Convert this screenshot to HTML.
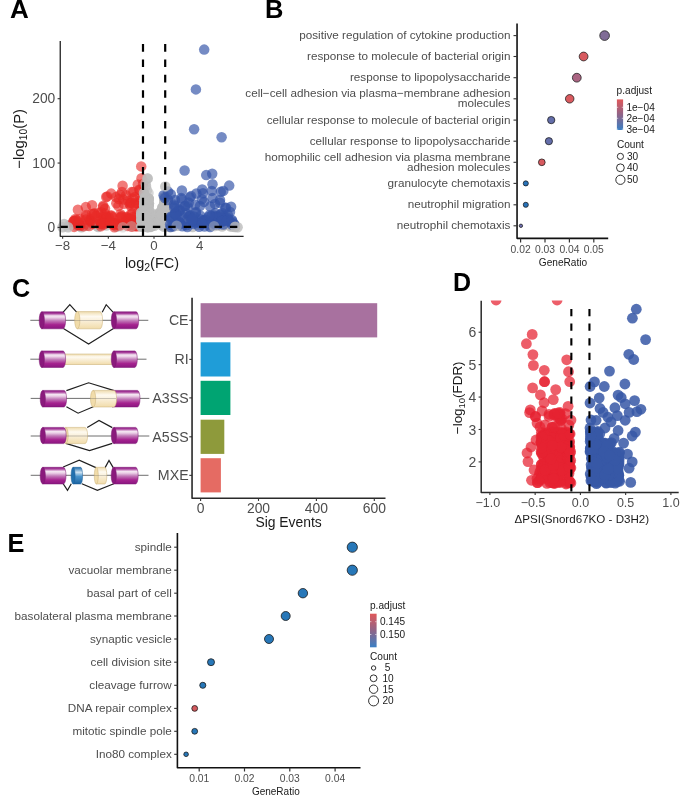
<!DOCTYPE html>
<html><head><meta charset="utf-8"><style>
html,body{margin:0;padding:0;background:#fff;}
svg{display:block;will-change:transform;}
text{font-family:"Liberation Sans",sans-serif;}
</style></head><body>
<svg width="685" height="795" viewBox="0 0 685 795" font-family="Liberation Sans, sans-serif">
<text x="10.0" y="18.0" font-size="26" text-anchor="start" fill="#000" font-weight="bold" >A</text>
<text x="265.1" y="17.9" font-size="25.5" text-anchor="start" fill="#000" font-weight="bold" >B</text>
<text x="11.9" y="297.3" font-size="25.2" text-anchor="start" fill="#000" font-weight="bold" >C</text>
<text x="453.1" y="291.4" font-size="25" text-anchor="start" fill="#000" font-weight="bold" >D</text>
<text x="7.6" y="551.6" font-size="25.3" text-anchor="start" fill="#000" font-weight="bold" >E</text>
<circle cx="142.7" cy="225.4" r="5.25" fill="rgb(188,188,188)" fill-opacity="0.8"/>
<circle cx="224.8" cy="225.1" r="5.25" fill="rgb(188,188,188)" fill-opacity="0.8"/>
<circle cx="152.4" cy="225.5" r="5.25" fill="rgb(188,188,188)" fill-opacity="0.8"/>
<circle cx="96.1" cy="225.2" r="5.25" fill="rgb(188,188,188)" fill-opacity="0.8"/>
<circle cx="173.6" cy="226.4" r="5.25" fill="rgb(188,188,188)" fill-opacity="0.8"/>
<circle cx="80.4" cy="224.4" r="5.25" fill="rgb(188,188,188)" fill-opacity="0.8"/>
<circle cx="79.8" cy="226.4" r="5.25" fill="rgb(188,188,188)" fill-opacity="0.8"/>
<circle cx="184.7" cy="223.4" r="5.25" fill="rgb(188,188,188)" fill-opacity="0.8"/>
<circle cx="234.9" cy="227.1" r="5.25" fill="rgb(188,188,188)" fill-opacity="0.8"/>
<circle cx="177.8" cy="225.7" r="5.25" fill="rgb(188,188,188)" fill-opacity="0.8"/>
<circle cx="91.4" cy="223.3" r="5.25" fill="rgb(188,188,188)" fill-opacity="0.8"/>
<circle cx="155.9" cy="223.4" r="5.25" fill="rgb(188,188,188)" fill-opacity="0.8"/>
<circle cx="97.1" cy="224.2" r="5.25" fill="rgb(188,188,188)" fill-opacity="0.8"/>
<circle cx="69.2" cy="225.1" r="5.25" fill="rgb(188,188,188)" fill-opacity="0.8"/>
<circle cx="140.7" cy="226.6" r="5.25" fill="rgb(188,188,188)" fill-opacity="0.8"/>
<circle cx="154.3" cy="225.8" r="5.25" fill="rgb(188,188,188)" fill-opacity="0.8"/>
<circle cx="151.0" cy="225.8" r="5.25" fill="rgb(188,188,188)" fill-opacity="0.8"/>
<circle cx="143.6" cy="224.3" r="5.25" fill="rgb(188,188,188)" fill-opacity="0.8"/>
<circle cx="237.6" cy="227.2" r="5.25" fill="rgb(188,188,188)" fill-opacity="0.8"/>
<circle cx="210.2" cy="226.0" r="5.25" fill="rgb(188,188,188)" fill-opacity="0.8"/>
<circle cx="118.9" cy="224.1" r="5.25" fill="rgb(188,188,188)" fill-opacity="0.8"/>
<circle cx="114.3" cy="223.5" r="5.25" fill="rgb(188,188,188)" fill-opacity="0.8"/>
<circle cx="197.3" cy="224.8" r="5.25" fill="rgb(188,188,188)" fill-opacity="0.8"/>
<circle cx="211.3" cy="224.7" r="5.25" fill="rgb(188,188,188)" fill-opacity="0.8"/>
<circle cx="230.7" cy="226.6" r="5.25" fill="rgb(188,188,188)" fill-opacity="0.8"/>
<circle cx="64.1" cy="224.0" r="5.25" fill="rgb(188,188,188)" fill-opacity="0.8"/>
<circle cx="222.4" cy="225.1" r="5.25" fill="rgb(188,188,188)" fill-opacity="0.8"/>
<circle cx="234.6" cy="224.8" r="5.25" fill="rgb(188,188,188)" fill-opacity="0.8"/>
<circle cx="76.7" cy="225.7" r="5.25" fill="rgb(188,188,188)" fill-opacity="0.8"/>
<circle cx="199.5" cy="224.3" r="5.25" fill="rgb(188,188,188)" fill-opacity="0.8"/>
<circle cx="79.2" cy="224.5" r="5.25" fill="rgb(188,188,188)" fill-opacity="0.8"/>
<circle cx="231.7" cy="226.2" r="5.25" fill="rgb(188,188,188)" fill-opacity="0.8"/>
<circle cx="84.5" cy="224.2" r="5.25" fill="rgb(188,188,188)" fill-opacity="0.8"/>
<circle cx="81.6" cy="223.4" r="5.25" fill="rgb(188,188,188)" fill-opacity="0.8"/>
<circle cx="202.7" cy="223.9" r="5.25" fill="rgb(188,188,188)" fill-opacity="0.8"/>
<circle cx="161.3" cy="225.0" r="5.25" fill="rgb(188,188,188)" fill-opacity="0.8"/>
<circle cx="97.2" cy="226.1" r="5.25" fill="rgb(188,188,188)" fill-opacity="0.8"/>
<circle cx="86.8" cy="225.8" r="5.25" fill="rgb(188,188,188)" fill-opacity="0.8"/>
<circle cx="84.3" cy="224.9" r="5.25" fill="rgb(188,188,188)" fill-opacity="0.8"/>
<circle cx="101.0" cy="224.3" r="5.25" fill="rgb(188,188,188)" fill-opacity="0.8"/>
<circle cx="232.9" cy="226.4" r="5.25" fill="rgb(188,188,188)" fill-opacity="0.8"/>
<circle cx="116.9" cy="226.7" r="5.25" fill="rgb(188,188,188)" fill-opacity="0.8"/>
<circle cx="100.7" cy="224.8" r="5.25" fill="rgb(188,188,188)" fill-opacity="0.8"/>
<circle cx="212.7" cy="225.8" r="5.25" fill="rgb(188,188,188)" fill-opacity="0.8"/>
<circle cx="81.5" cy="227.2" r="5.25" fill="rgb(188,188,188)" fill-opacity="0.8"/>
<circle cx="101.1" cy="224.2" r="5.25" fill="rgb(188,188,188)" fill-opacity="0.8"/>
<circle cx="198.4" cy="224.5" r="5.25" fill="rgb(188,188,188)" fill-opacity="0.8"/>
<circle cx="115.6" cy="223.5" r="5.25" fill="rgb(188,188,188)" fill-opacity="0.8"/>
<circle cx="79.7" cy="225.5" r="5.25" fill="rgb(188,188,188)" fill-opacity="0.8"/>
<circle cx="106.3" cy="225.6" r="5.25" fill="rgb(188,188,188)" fill-opacity="0.8"/>
<circle cx="128.7" cy="225.0" r="5.25" fill="rgb(188,188,188)" fill-opacity="0.8"/>
<circle cx="230.9" cy="225.1" r="5.25" fill="rgb(188,188,188)" fill-opacity="0.8"/>
<circle cx="164.0" cy="226.7" r="5.25" fill="rgb(188,188,188)" fill-opacity="0.8"/>
<circle cx="95.8" cy="223.8" r="5.25" fill="rgb(188,188,188)" fill-opacity="0.8"/>
<circle cx="222.1" cy="226.5" r="5.25" fill="rgb(188,188,188)" fill-opacity="0.8"/>
<circle cx="107.4" cy="224.0" r="5.25" fill="rgb(188,188,188)" fill-opacity="0.8"/>
<circle cx="192.7" cy="227.0" r="5.25" fill="rgb(188,188,188)" fill-opacity="0.8"/>
<circle cx="98.2" cy="227.0" r="5.25" fill="rgb(188,188,188)" fill-opacity="0.8"/>
<circle cx="217.5" cy="225.6" r="5.25" fill="rgb(188,188,188)" fill-opacity="0.8"/>
<circle cx="137.3" cy="223.6" r="5.25" fill="rgb(188,188,188)" fill-opacity="0.8"/>
<circle cx="74.1" cy="226.9" r="5.25" fill="rgb(232,42,38)" fill-opacity="0.62"/>
<circle cx="79.9" cy="224.8" r="5.25" fill="rgb(232,42,38)" fill-opacity="0.62"/>
<circle cx="80.5" cy="225.8" r="5.25" fill="rgb(232,42,38)" fill-opacity="0.62"/>
<circle cx="90.3" cy="221.4" r="5.25" fill="rgb(232,42,38)" fill-opacity="0.62"/>
<circle cx="78.1" cy="224.9" r="5.25" fill="rgb(232,42,38)" fill-opacity="0.62"/>
<circle cx="75.0" cy="220.9" r="5.25" fill="rgb(232,42,38)" fill-opacity="0.62"/>
<circle cx="89.2" cy="226.0" r="5.25" fill="rgb(232,42,38)" fill-opacity="0.62"/>
<circle cx="90.8" cy="221.3" r="5.25" fill="rgb(232,42,38)" fill-opacity="0.62"/>
<circle cx="99.6" cy="220.7" r="5.25" fill="rgb(232,42,38)" fill-opacity="0.62"/>
<circle cx="73.5" cy="221.2" r="5.25" fill="rgb(232,42,38)" fill-opacity="0.62"/>
<circle cx="85.9" cy="219.5" r="5.25" fill="rgb(232,42,38)" fill-opacity="0.62"/>
<circle cx="78.1" cy="222.0" r="5.25" fill="rgb(232,42,38)" fill-opacity="0.62"/>
<circle cx="89.6" cy="220.1" r="5.25" fill="rgb(232,42,38)" fill-opacity="0.62"/>
<circle cx="83.5" cy="226.3" r="5.25" fill="rgb(232,42,38)" fill-opacity="0.62"/>
<circle cx="101.4" cy="224.4" r="5.25" fill="rgb(232,42,38)" fill-opacity="0.62"/>
<circle cx="93.0" cy="223.8" r="5.25" fill="rgb(232,42,38)" fill-opacity="0.62"/>
<circle cx="106.3" cy="216.4" r="5.25" fill="rgb(232,42,38)" fill-opacity="0.62"/>
<circle cx="100.8" cy="226.3" r="5.25" fill="rgb(232,42,38)" fill-opacity="0.62"/>
<circle cx="131.5" cy="226.6" r="5.25" fill="rgb(232,42,38)" fill-opacity="0.62"/>
<circle cx="101.0" cy="223.4" r="5.25" fill="rgb(232,42,38)" fill-opacity="0.62"/>
<circle cx="121.7" cy="223.5" r="5.25" fill="rgb(232,42,38)" fill-opacity="0.62"/>
<circle cx="114.4" cy="227.2" r="5.25" fill="rgb(232,42,38)" fill-opacity="0.62"/>
<circle cx="103.4" cy="222.3" r="5.25" fill="rgb(232,42,38)" fill-opacity="0.62"/>
<circle cx="133.2" cy="225.5" r="5.25" fill="rgb(232,42,38)" fill-opacity="0.62"/>
<circle cx="133.2" cy="222.2" r="5.25" fill="rgb(232,42,38)" fill-opacity="0.62"/>
<circle cx="135.7" cy="225.7" r="5.25" fill="rgb(232,42,38)" fill-opacity="0.62"/>
<circle cx="115.8" cy="223.2" r="5.25" fill="rgb(232,42,38)" fill-opacity="0.62"/>
<circle cx="140.5" cy="225.2" r="5.25" fill="rgb(232,42,38)" fill-opacity="0.62"/>
<circle cx="118.8" cy="224.5" r="5.25" fill="rgb(232,42,38)" fill-opacity="0.62"/>
<circle cx="138.9" cy="219.8" r="5.25" fill="rgb(232,42,38)" fill-opacity="0.62"/>
<circle cx="128.1" cy="217.7" r="5.25" fill="rgb(232,42,38)" fill-opacity="0.62"/>
<circle cx="126.2" cy="221.4" r="5.25" fill="rgb(232,42,38)" fill-opacity="0.62"/>
<circle cx="103.6" cy="223.3" r="5.25" fill="rgb(232,42,38)" fill-opacity="0.62"/>
<circle cx="144.7" cy="225.8" r="5.25" fill="rgb(232,42,38)" fill-opacity="0.62"/>
<circle cx="132.8" cy="217.0" r="5.25" fill="rgb(232,42,38)" fill-opacity="0.62"/>
<circle cx="133.1" cy="220.1" r="5.25" fill="rgb(232,42,38)" fill-opacity="0.62"/>
<circle cx="119.8" cy="225.1" r="5.25" fill="rgb(232,42,38)" fill-opacity="0.62"/>
<circle cx="103.8" cy="224.5" r="5.25" fill="rgb(232,42,38)" fill-opacity="0.62"/>
<circle cx="101.3" cy="223.1" r="5.25" fill="rgb(232,42,38)" fill-opacity="0.62"/>
<circle cx="121.6" cy="216.7" r="5.25" fill="rgb(232,42,38)" fill-opacity="0.62"/>
<circle cx="131.4" cy="219.0" r="5.25" fill="rgb(232,42,38)" fill-opacity="0.62"/>
<circle cx="127.7" cy="226.0" r="5.25" fill="rgb(232,42,38)" fill-opacity="0.62"/>
<circle cx="111.5" cy="215.4" r="5.25" fill="rgb(232,42,38)" fill-opacity="0.62"/>
<circle cx="113.5" cy="223.3" r="5.25" fill="rgb(232,42,38)" fill-opacity="0.62"/>
<circle cx="109.1" cy="217.6" r="5.25" fill="rgb(232,42,38)" fill-opacity="0.62"/>
<circle cx="140.8" cy="221.9" r="5.25" fill="rgb(232,42,38)" fill-opacity="0.62"/>
<circle cx="119.9" cy="225.8" r="5.25" fill="rgb(232,42,38)" fill-opacity="0.62"/>
<circle cx="114.7" cy="223.1" r="5.25" fill="rgb(232,42,38)" fill-opacity="0.62"/>
<circle cx="108.9" cy="220.6" r="5.25" fill="rgb(232,42,38)" fill-opacity="0.62"/>
<circle cx="136.3" cy="225.7" r="5.25" fill="rgb(232,42,38)" fill-opacity="0.62"/>
<circle cx="139.6" cy="217.0" r="5.25" fill="rgb(232,42,38)" fill-opacity="0.62"/>
<circle cx="126.2" cy="217.0" r="5.25" fill="rgb(232,42,38)" fill-opacity="0.62"/>
<circle cx="106.1" cy="221.6" r="5.25" fill="rgb(232,42,38)" fill-opacity="0.62"/>
<circle cx="137.7" cy="224.5" r="5.25" fill="rgb(232,42,38)" fill-opacity="0.62"/>
<circle cx="132.0" cy="226.4" r="5.25" fill="rgb(232,42,38)" fill-opacity="0.62"/>
<circle cx="112.5" cy="217.2" r="5.25" fill="rgb(232,42,38)" fill-opacity="0.62"/>
<circle cx="120.3" cy="217.6" r="5.25" fill="rgb(232,42,38)" fill-opacity="0.62"/>
<circle cx="109.6" cy="220.4" r="5.25" fill="rgb(232,42,38)" fill-opacity="0.62"/>
<circle cx="128.2" cy="219.4" r="5.25" fill="rgb(232,42,38)" fill-opacity="0.62"/>
<circle cx="114.2" cy="225.2" r="5.25" fill="rgb(232,42,38)" fill-opacity="0.62"/>
<circle cx="144.2" cy="220.6" r="5.25" fill="rgb(232,42,38)" fill-opacity="0.62"/>
<circle cx="103.4" cy="216.8" r="5.25" fill="rgb(232,42,38)" fill-opacity="0.62"/>
<circle cx="139.3" cy="211.0" r="5.25" fill="rgb(232,42,38)" fill-opacity="0.62"/>
<circle cx="131.9" cy="220.1" r="5.25" fill="rgb(232,42,38)" fill-opacity="0.62"/>
<circle cx="113.9" cy="224.6" r="5.25" fill="rgb(232,42,38)" fill-opacity="0.62"/>
<circle cx="100.9" cy="218.3" r="5.25" fill="rgb(232,42,38)" fill-opacity="0.62"/>
<circle cx="120.5" cy="214.2" r="5.25" fill="rgb(232,42,38)" fill-opacity="0.62"/>
<circle cx="137.3" cy="213.5" r="5.25" fill="rgb(232,42,38)" fill-opacity="0.62"/>
<circle cx="106.3" cy="216.6" r="5.25" fill="rgb(232,42,38)" fill-opacity="0.62"/>
<circle cx="128.3" cy="218.6" r="5.25" fill="rgb(232,42,38)" fill-opacity="0.62"/>
<circle cx="128.3" cy="221.8" r="5.25" fill="rgb(232,42,38)" fill-opacity="0.62"/>
<circle cx="136.3" cy="226.5" r="5.25" fill="rgb(232,42,38)" fill-opacity="0.62"/>
<circle cx="130.8" cy="214.2" r="5.25" fill="rgb(232,42,38)" fill-opacity="0.62"/>
<circle cx="121.4" cy="216.0" r="5.25" fill="rgb(232,42,38)" fill-opacity="0.62"/>
<circle cx="100.5" cy="221.8" r="5.25" fill="rgb(232,42,38)" fill-opacity="0.62"/>
<circle cx="132.1" cy="213.6" r="5.25" fill="rgb(232,42,38)" fill-opacity="0.62"/>
<circle cx="85.8" cy="207.1" r="5.25" fill="rgb(232,42,38)" fill-opacity="0.62"/>
<circle cx="106.2" cy="197.0" r="5.25" fill="rgb(232,42,38)" fill-opacity="0.62"/>
<circle cx="98.5" cy="212.8" r="5.25" fill="rgb(232,42,38)" fill-opacity="0.62"/>
<circle cx="101.3" cy="212.2" r="5.25" fill="rgb(232,42,38)" fill-opacity="0.62"/>
<circle cx="141.2" cy="166.4" r="5.25" fill="rgb(232,42,38)" fill-opacity="0.62"/>
<circle cx="141.5" cy="178.3" r="5.25" fill="rgb(232,42,38)" fill-opacity="0.62"/>
<circle cx="137.8" cy="184.5" r="5.25" fill="rgb(232,42,38)" fill-opacity="0.62"/>
<circle cx="122.6" cy="185.7" r="5.25" fill="rgb(232,42,38)" fill-opacity="0.62"/>
<circle cx="111.2" cy="193.6" r="5.25" fill="rgb(232,42,38)" fill-opacity="0.62"/>
<circle cx="107.3" cy="196.4" r="5.25" fill="rgb(232,42,38)" fill-opacity="0.62"/>
<circle cx="122.0" cy="191.9" r="5.25" fill="rgb(232,42,38)" fill-opacity="0.62"/>
<circle cx="126.0" cy="195.3" r="5.25" fill="rgb(232,42,38)" fill-opacity="0.62"/>
<circle cx="133.3" cy="191.9" r="5.25" fill="rgb(232,42,38)" fill-opacity="0.62"/>
<circle cx="116.3" cy="203.2" r="5.25" fill="rgb(232,42,38)" fill-opacity="0.62"/>
<circle cx="129.9" cy="204.4" r="5.25" fill="rgb(232,42,38)" fill-opacity="0.62"/>
<circle cx="105.0" cy="213.4" r="5.25" fill="rgb(232,42,38)" fill-opacity="0.62"/>
<circle cx="110.7" cy="215.7" r="5.25" fill="rgb(232,42,38)" fill-opacity="0.62"/>
<circle cx="85.5" cy="216.7" r="5.25" fill="rgb(232,42,38)" fill-opacity="0.62"/>
<circle cx="90.5" cy="219.0" r="5.25" fill="rgb(232,42,38)" fill-opacity="0.62"/>
<circle cx="75.3" cy="219.0" r="5.25" fill="rgb(232,42,38)" fill-opacity="0.62"/>
<circle cx="73.4" cy="222.4" r="5.25" fill="rgb(232,42,38)" fill-opacity="0.62"/>
<circle cx="78.1" cy="224.7" r="5.25" fill="rgb(232,42,38)" fill-opacity="0.62"/>
<circle cx="119.0" cy="199.0" r="5.25" fill="rgb(232,42,38)" fill-opacity="0.62"/>
<circle cx="128.0" cy="201.0" r="5.25" fill="rgb(232,42,38)" fill-opacity="0.62"/>
<circle cx="135.0" cy="197.0" r="5.25" fill="rgb(232,42,38)" fill-opacity="0.62"/>
<circle cx="140.0" cy="190.0" r="5.25" fill="rgb(232,42,38)" fill-opacity="0.62"/>
<circle cx="143.0" cy="184.0" r="5.25" fill="rgb(232,42,38)" fill-opacity="0.62"/>
<circle cx="74.0" cy="221.0" r="5.25" fill="rgb(232,42,38)" fill-opacity="0.62"/>
<circle cx="76.0" cy="220.0" r="5.25" fill="rgb(232,42,38)" fill-opacity="0.62"/>
<circle cx="80.0" cy="219.0" r="5.25" fill="rgb(232,42,38)" fill-opacity="0.62"/>
<circle cx="92.0" cy="214.0" r="5.25" fill="rgb(232,42,38)" fill-opacity="0.62"/>
<circle cx="96.0" cy="216.0" r="5.25" fill="rgb(232,42,38)" fill-opacity="0.62"/>
<circle cx="136.0" cy="203.0" r="5.25" fill="rgb(232,42,38)" fill-opacity="0.62"/>
<circle cx="141.0" cy="200.0" r="5.25" fill="rgb(232,42,38)" fill-opacity="0.62"/>
<circle cx="144.0" cy="196.0" r="5.25" fill="rgb(232,42,38)" fill-opacity="0.62"/>
<circle cx="120.2" cy="194.9" r="5.25" fill="rgb(232,42,38)" fill-opacity="0.62"/>
<circle cx="132.9" cy="198.4" r="5.25" fill="rgb(232,42,38)" fill-opacity="0.62"/>
<circle cx="130.4" cy="203.1" r="5.25" fill="rgb(232,42,38)" fill-opacity="0.62"/>
<circle cx="123.8" cy="203.8" r="5.25" fill="rgb(232,42,38)" fill-opacity="0.62"/>
<circle cx="139.2" cy="189.7" r="5.25" fill="rgb(232,42,38)" fill-opacity="0.62"/>
<circle cx="140.0" cy="202.4" r="5.25" fill="rgb(232,42,38)" fill-opacity="0.62"/>
<circle cx="115.9" cy="197.1" r="5.25" fill="rgb(232,42,38)" fill-opacity="0.62"/>
<circle cx="130.8" cy="206.2" r="5.25" fill="rgb(232,42,38)" fill-opacity="0.62"/>
<circle cx="123.3" cy="199.4" r="5.25" fill="rgb(232,42,38)" fill-opacity="0.62"/>
<circle cx="138.4" cy="203.9" r="5.25" fill="rgb(232,42,38)" fill-opacity="0.62"/>
<circle cx="140.3" cy="197.3" r="5.25" fill="rgb(232,42,38)" fill-opacity="0.62"/>
<circle cx="131.5" cy="192.1" r="5.25" fill="rgb(232,42,38)" fill-opacity="0.62"/>
<circle cx="133.7" cy="204.4" r="5.25" fill="rgb(232,42,38)" fill-opacity="0.62"/>
<circle cx="131.2" cy="202.4" r="5.25" fill="rgb(232,42,38)" fill-opacity="0.62"/>
<circle cx="118.4" cy="206.0" r="5.25" fill="rgb(232,42,38)" fill-opacity="0.62"/>
<circle cx="141.4" cy="207.5" r="5.25" fill="rgb(232,42,38)" fill-opacity="0.62"/>
<circle cx="93.8" cy="213.7" r="5.25" fill="rgb(232,42,38)" fill-opacity="0.62"/>
<circle cx="86.2" cy="215.0" r="5.25" fill="rgb(232,42,38)" fill-opacity="0.62"/>
<circle cx="105.0" cy="208.8" r="5.25" fill="rgb(232,42,38)" fill-opacity="0.62"/>
<circle cx="77.9" cy="209.8" r="5.25" fill="rgb(232,42,38)" fill-opacity="0.62"/>
<circle cx="94.3" cy="213.5" r="5.25" fill="rgb(232,42,38)" fill-opacity="0.62"/>
<circle cx="92.1" cy="205.3" r="5.25" fill="rgb(232,42,38)" fill-opacity="0.62"/>
<circle cx="103.3" cy="205.7" r="5.25" fill="rgb(232,42,38)" fill-opacity="0.62"/>
<circle cx="103.0" cy="206.9" r="5.25" fill="rgb(232,42,38)" fill-opacity="0.62"/>
<circle cx="147.9" cy="207.1" r="5.25" fill="rgb(188,188,188)" fill-opacity="0.9"/>
<circle cx="144.7" cy="201.2" r="5.25" fill="rgb(188,188,188)" fill-opacity="0.9"/>
<circle cx="148.6" cy="212.6" r="5.25" fill="rgb(188,188,188)" fill-opacity="0.9"/>
<circle cx="148.2" cy="222.4" r="5.25" fill="rgb(188,188,188)" fill-opacity="0.9"/>
<circle cx="146.2" cy="225.6" r="5.25" fill="rgb(188,188,188)" fill-opacity="0.9"/>
<circle cx="141.9" cy="225.7" r="5.25" fill="rgb(188,188,188)" fill-opacity="0.9"/>
<circle cx="146.6" cy="203.7" r="5.25" fill="rgb(188,188,188)" fill-opacity="0.9"/>
<circle cx="147.6" cy="205.8" r="5.25" fill="rgb(188,188,188)" fill-opacity="0.9"/>
<circle cx="146.5" cy="216.3" r="5.25" fill="rgb(188,188,188)" fill-opacity="0.9"/>
<circle cx="146.9" cy="222.5" r="5.25" fill="rgb(188,188,188)" fill-opacity="0.9"/>
<circle cx="145.9" cy="206.4" r="5.25" fill="rgb(188,188,188)" fill-opacity="0.9"/>
<circle cx="150.5" cy="222.5" r="5.25" fill="rgb(188,188,188)" fill-opacity="0.9"/>
<circle cx="148.3" cy="203.3" r="5.25" fill="rgb(188,188,188)" fill-opacity="0.9"/>
<circle cx="146.5" cy="226.2" r="5.25" fill="rgb(188,188,188)" fill-opacity="0.9"/>
<circle cx="143.1" cy="214.3" r="5.25" fill="rgb(188,188,188)" fill-opacity="0.9"/>
<circle cx="146.3" cy="213.2" r="5.25" fill="rgb(188,188,188)" fill-opacity="0.9"/>
<circle cx="141.3" cy="215.3" r="5.25" fill="rgb(188,188,188)" fill-opacity="0.9"/>
<circle cx="146.4" cy="226.3" r="5.25" fill="rgb(188,188,188)" fill-opacity="0.9"/>
<circle cx="148.0" cy="209.1" r="5.25" fill="rgb(188,188,188)" fill-opacity="0.9"/>
<circle cx="146.2" cy="214.0" r="5.25" fill="rgb(188,188,188)" fill-opacity="0.9"/>
<circle cx="141.7" cy="217.9" r="5.25" fill="rgb(188,188,188)" fill-opacity="0.9"/>
<circle cx="145.3" cy="213.3" r="5.25" fill="rgb(188,188,188)" fill-opacity="0.9"/>
<circle cx="150.7" cy="225.9" r="5.25" fill="rgb(188,188,188)" fill-opacity="0.9"/>
<circle cx="146.4" cy="205.1" r="5.25" fill="rgb(188,188,188)" fill-opacity="0.9"/>
<circle cx="146.2" cy="200.8" r="5.25" fill="rgb(188,188,188)" fill-opacity="0.9"/>
<circle cx="150.5" cy="221.6" r="5.25" fill="rgb(188,188,188)" fill-opacity="0.9"/>
<circle cx="144.3" cy="211.4" r="5.25" fill="rgb(188,188,188)" fill-opacity="0.9"/>
<circle cx="147.1" cy="202.8" r="5.25" fill="rgb(188,188,188)" fill-opacity="0.9"/>
<circle cx="142.4" cy="224.9" r="5.25" fill="rgb(188,188,188)" fill-opacity="0.9"/>
<circle cx="141.2" cy="220.5" r="5.25" fill="rgb(188,188,188)" fill-opacity="0.9"/>
<circle cx="145.1" cy="202.9" r="5.25" fill="rgb(188,188,188)" fill-opacity="0.9"/>
<circle cx="144.4" cy="217.7" r="5.25" fill="rgb(188,188,188)" fill-opacity="0.9"/>
<circle cx="147.1" cy="207.7" r="5.25" fill="rgb(188,188,188)" fill-opacity="0.9"/>
<circle cx="147.7" cy="200.2" r="5.25" fill="rgb(188,188,188)" fill-opacity="0.9"/>
<circle cx="146.6" cy="200.7" r="5.25" fill="rgb(188,188,188)" fill-opacity="0.9"/>
<circle cx="145.0" cy="204.6" r="5.25" fill="rgb(188,188,188)" fill-opacity="0.9"/>
<circle cx="145.6" cy="213.0" r="5.25" fill="rgb(188,188,188)" fill-opacity="0.9"/>
<circle cx="146.1" cy="208.3" r="5.25" fill="rgb(188,188,188)" fill-opacity="0.9"/>
<circle cx="142.7" cy="213.0" r="5.25" fill="rgb(188,188,188)" fill-opacity="0.9"/>
<circle cx="147.2" cy="203.2" r="5.25" fill="rgb(188,188,188)" fill-opacity="0.9"/>
<circle cx="146.6" cy="216.3" r="5.25" fill="rgb(188,188,188)" fill-opacity="0.9"/>
<circle cx="147.4" cy="222.7" r="5.25" fill="rgb(188,188,188)" fill-opacity="0.9"/>
<circle cx="143.4" cy="222.9" r="5.25" fill="rgb(188,188,188)" fill-opacity="0.9"/>
<circle cx="149.5" cy="219.4" r="5.25" fill="rgb(188,188,188)" fill-opacity="0.9"/>
<circle cx="144.3" cy="224.3" r="5.25" fill="rgb(188,188,188)" fill-opacity="0.9"/>
<circle cx="148.6" cy="206.5" r="5.25" fill="rgb(188,188,188)" fill-opacity="0.9"/>
<circle cx="149.0" cy="203.6" r="5.25" fill="rgb(188,188,188)" fill-opacity="0.9"/>
<circle cx="142.4" cy="223.8" r="5.25" fill="rgb(188,188,188)" fill-opacity="0.9"/>
<circle cx="147.6" cy="204.2" r="5.25" fill="rgb(188,188,188)" fill-opacity="0.9"/>
<circle cx="144.5" cy="204.8" r="5.25" fill="rgb(188,188,188)" fill-opacity="0.9"/>
<circle cx="145.4" cy="222.1" r="5.25" fill="rgb(188,188,188)" fill-opacity="0.9"/>
<circle cx="142.3" cy="220.9" r="5.25" fill="rgb(188,188,188)" fill-opacity="0.9"/>
<circle cx="147.4" cy="209.2" r="5.25" fill="rgb(188,188,188)" fill-opacity="0.9"/>
<circle cx="145.0" cy="197.5" r="5.25" fill="rgb(188,188,188)" fill-opacity="0.9"/>
<circle cx="150.6" cy="217.6" r="5.25" fill="rgb(188,188,188)" fill-opacity="0.9"/>
<circle cx="142.2" cy="226.2" r="5.25" fill="rgb(188,188,188)" fill-opacity="0.9"/>
<circle cx="149.0" cy="212.3" r="5.25" fill="rgb(188,188,188)" fill-opacity="0.9"/>
<circle cx="148.2" cy="212.2" r="5.25" fill="rgb(188,188,188)" fill-opacity="0.9"/>
<circle cx="144.4" cy="202.7" r="5.25" fill="rgb(188,188,188)" fill-opacity="0.9"/>
<circle cx="144.2" cy="200.2" r="5.25" fill="rgb(188,188,188)" fill-opacity="0.9"/>
<circle cx="146.4" cy="213.7" r="5.25" fill="rgb(188,188,188)" fill-opacity="0.9"/>
<circle cx="142.5" cy="214.2" r="5.25" fill="rgb(188,188,188)" fill-opacity="0.9"/>
<circle cx="145.0" cy="202.6" r="5.25" fill="rgb(188,188,188)" fill-opacity="0.9"/>
<circle cx="151.4" cy="222.4" r="5.25" fill="rgb(188,188,188)" fill-opacity="0.9"/>
<circle cx="142.0" cy="225.0" r="5.25" fill="rgb(188,188,188)" fill-opacity="0.9"/>
<circle cx="148.8" cy="198.9" r="5.25" fill="rgb(188,188,188)" fill-opacity="0.9"/>
<circle cx="147.8" cy="211.0" r="5.25" fill="rgb(188,188,188)" fill-opacity="0.9"/>
<circle cx="146.3" cy="206.9" r="5.25" fill="rgb(188,188,188)" fill-opacity="0.9"/>
<circle cx="145.5" cy="212.6" r="5.25" fill="rgb(188,188,188)" fill-opacity="0.9"/>
<circle cx="141.1" cy="215.1" r="5.25" fill="rgb(188,188,188)" fill-opacity="0.9"/>
<circle cx="149.9" cy="218.2" r="5.25" fill="rgb(188,188,188)" fill-opacity="0.9"/>
<circle cx="146.3" cy="202.5" r="5.25" fill="rgb(188,188,188)" fill-opacity="0.9"/>
<circle cx="145.3" cy="219.3" r="5.25" fill="rgb(188,188,188)" fill-opacity="0.9"/>
<circle cx="144.8" cy="202.9" r="5.25" fill="rgb(188,188,188)" fill-opacity="0.9"/>
<circle cx="141.2" cy="212.5" r="5.25" fill="rgb(188,188,188)" fill-opacity="0.9"/>
<circle cx="149.4" cy="224.0" r="5.25" fill="rgb(188,188,188)" fill-opacity="0.9"/>
<circle cx="150.0" cy="218.3" r="5.25" fill="rgb(188,188,188)" fill-opacity="0.9"/>
<circle cx="145.2" cy="216.0" r="5.25" fill="rgb(188,188,188)" fill-opacity="0.9"/>
<circle cx="146.3" cy="215.1" r="5.25" fill="rgb(188,188,188)" fill-opacity="0.9"/>
<circle cx="149.5" cy="226.7" r="5.25" fill="rgb(188,188,188)" fill-opacity="0.9"/>
<circle cx="148.6" cy="204.8" r="5.25" fill="rgb(188,188,188)" fill-opacity="0.9"/>
<circle cx="149.2" cy="219.5" r="5.25" fill="rgb(188,188,188)" fill-opacity="0.9"/>
<circle cx="145.3" cy="221.6" r="5.25" fill="rgb(188,188,188)" fill-opacity="0.9"/>
<circle cx="150.2" cy="224.1" r="5.25" fill="rgb(188,188,188)" fill-opacity="0.9"/>
<circle cx="149.1" cy="218.0" r="5.25" fill="rgb(188,188,188)" fill-opacity="0.9"/>
<circle cx="145.3" cy="220.1" r="5.25" fill="rgb(188,188,188)" fill-opacity="0.9"/>
<circle cx="141.7" cy="218.8" r="5.25" fill="rgb(188,188,188)" fill-opacity="0.9"/>
<circle cx="146.3" cy="207.3" r="5.25" fill="rgb(188,188,188)" fill-opacity="0.9"/>
<circle cx="145.8" cy="197.3" r="5.25" fill="rgb(188,188,188)" fill-opacity="0.9"/>
<circle cx="147.6" cy="216.3" r="5.25" fill="rgb(188,188,188)" fill-opacity="0.9"/>
<circle cx="148.7" cy="204.0" r="5.25" fill="rgb(188,188,188)" fill-opacity="0.9"/>
<circle cx="144.5" cy="217.1" r="5.25" fill="rgb(188,188,188)" fill-opacity="0.9"/>
<circle cx="147.0" cy="216.9" r="5.25" fill="rgb(188,188,188)" fill-opacity="0.9"/>
<circle cx="145.1" cy="213.1" r="5.25" fill="rgb(188,188,188)" fill-opacity="0.9"/>
<circle cx="147.7" cy="227.2" r="5.25" fill="rgb(188,188,188)" fill-opacity="0.9"/>
<circle cx="149.0" cy="218.2" r="5.25" fill="rgb(188,188,188)" fill-opacity="0.9"/>
<circle cx="141.2" cy="226.6" r="5.25" fill="rgb(188,188,188)" fill-opacity="0.9"/>
<circle cx="148.8" cy="215.6" r="5.25" fill="rgb(188,188,188)" fill-opacity="0.9"/>
<circle cx="146.0" cy="204.8" r="5.25" fill="rgb(188,188,188)" fill-opacity="0.9"/>
<circle cx="145.0" cy="198.5" r="5.25" fill="rgb(188,188,188)" fill-opacity="0.9"/>
<circle cx="144.5" cy="208.3" r="5.25" fill="rgb(188,188,188)" fill-opacity="0.9"/>
<circle cx="148.5" cy="204.6" r="5.25" fill="rgb(188,188,188)" fill-opacity="0.9"/>
<circle cx="146.3" cy="213.6" r="5.25" fill="rgb(188,188,188)" fill-opacity="0.9"/>
<circle cx="147.0" cy="226.2" r="5.25" fill="rgb(188,188,188)" fill-opacity="0.9"/>
<circle cx="147.7" cy="227.1" r="5.25" fill="rgb(188,188,188)" fill-opacity="0.9"/>
<circle cx="141.8" cy="221.4" r="5.25" fill="rgb(188,188,188)" fill-opacity="0.9"/>
<circle cx="149.0" cy="215.0" r="5.25" fill="rgb(188,188,188)" fill-opacity="0.9"/>
<circle cx="148.7" cy="198.4" r="5.25" fill="rgb(188,188,188)" fill-opacity="0.9"/>
<circle cx="146.4" cy="201.8" r="5.25" fill="rgb(188,188,188)" fill-opacity="0.9"/>
<circle cx="146.5" cy="202.1" r="5.25" fill="rgb(188,188,188)" fill-opacity="0.9"/>
<circle cx="141.6" cy="215.5" r="5.25" fill="rgb(188,188,188)" fill-opacity="0.9"/>
<circle cx="145.4" cy="225.5" r="5.25" fill="rgb(188,188,188)" fill-opacity="0.9"/>
<circle cx="147.3" cy="212.9" r="5.25" fill="rgb(188,188,188)" fill-opacity="0.9"/>
<circle cx="145.4" cy="208.0" r="5.25" fill="rgb(188,188,188)" fill-opacity="0.9"/>
<circle cx="146.9" cy="216.8" r="5.25" fill="rgb(188,188,188)" fill-opacity="0.9"/>
<circle cx="147.6" cy="205.6" r="5.25" fill="rgb(188,188,188)" fill-opacity="0.9"/>
<circle cx="144.1" cy="205.9" r="5.25" fill="rgb(188,188,188)" fill-opacity="0.9"/>
<circle cx="144.2" cy="204.4" r="5.25" fill="rgb(188,188,188)" fill-opacity="0.9"/>
<circle cx="147.8" cy="201.7" r="5.25" fill="rgb(188,188,188)" fill-opacity="0.9"/>
<circle cx="148.5" cy="208.8" r="5.25" fill="rgb(188,188,188)" fill-opacity="0.9"/>
<circle cx="141.5" cy="219.6" r="5.25" fill="rgb(188,188,188)" fill-opacity="0.9"/>
<circle cx="150.9" cy="226.9" r="5.25" fill="rgb(188,188,188)" fill-opacity="0.9"/>
<circle cx="148.5" cy="199.2" r="5.25" fill="rgb(188,188,188)" fill-opacity="0.9"/>
<circle cx="146.4" cy="210.0" r="5.25" fill="rgb(188,188,188)" fill-opacity="0.9"/>
<circle cx="143.6" cy="226.4" r="5.25" fill="rgb(188,188,188)" fill-opacity="0.9"/>
<circle cx="150.8" cy="212.8" r="5.25" fill="rgb(188,188,188)" fill-opacity="0.9"/>
<circle cx="145.9" cy="218.8" r="5.25" fill="rgb(188,188,188)" fill-opacity="0.9"/>
<circle cx="149.6" cy="226.6" r="5.25" fill="rgb(188,188,188)" fill-opacity="0.9"/>
<circle cx="142.2" cy="215.2" r="5.25" fill="rgb(188,188,188)" fill-opacity="0.9"/>
<circle cx="145.8" cy="215.9" r="5.25" fill="rgb(188,188,188)" fill-opacity="0.9"/>
<circle cx="164.2" cy="202.4" r="5.25" fill="rgb(188,188,188)" fill-opacity="0.9"/>
<circle cx="159.9" cy="212.5" r="5.25" fill="rgb(188,188,188)" fill-opacity="0.9"/>
<circle cx="165.8" cy="209.8" r="5.25" fill="rgb(188,188,188)" fill-opacity="0.9"/>
<circle cx="163.2" cy="210.2" r="5.25" fill="rgb(188,188,188)" fill-opacity="0.9"/>
<circle cx="163.3" cy="214.2" r="5.25" fill="rgb(188,188,188)" fill-opacity="0.9"/>
<circle cx="164.6" cy="220.3" r="5.25" fill="rgb(188,188,188)" fill-opacity="0.9"/>
<circle cx="169.5" cy="227.1" r="5.25" fill="rgb(188,188,188)" fill-opacity="0.9"/>
<circle cx="161.2" cy="218.9" r="5.25" fill="rgb(188,188,188)" fill-opacity="0.9"/>
<circle cx="167.6" cy="199.6" r="5.25" fill="rgb(188,188,188)" fill-opacity="0.9"/>
<circle cx="165.7" cy="220.5" r="5.25" fill="rgb(188,188,188)" fill-opacity="0.9"/>
<circle cx="163.3" cy="207.2" r="5.25" fill="rgb(188,188,188)" fill-opacity="0.9"/>
<circle cx="165.0" cy="217.4" r="5.25" fill="rgb(188,188,188)" fill-opacity="0.9"/>
<circle cx="165.8" cy="214.5" r="5.25" fill="rgb(188,188,188)" fill-opacity="0.9"/>
<circle cx="160.7" cy="219.5" r="5.25" fill="rgb(188,188,188)" fill-opacity="0.9"/>
<circle cx="167.9" cy="203.8" r="5.25" fill="rgb(188,188,188)" fill-opacity="0.9"/>
<circle cx="168.6" cy="224.6" r="5.25" fill="rgb(188,188,188)" fill-opacity="0.9"/>
<circle cx="164.2" cy="197.2" r="5.25" fill="rgb(188,188,188)" fill-opacity="0.9"/>
<circle cx="165.7" cy="204.5" r="5.25" fill="rgb(188,188,188)" fill-opacity="0.9"/>
<circle cx="159.7" cy="215.4" r="5.25" fill="rgb(188,188,188)" fill-opacity="0.9"/>
<circle cx="159.3" cy="212.9" r="5.25" fill="rgb(188,188,188)" fill-opacity="0.9"/>
<circle cx="166.7" cy="198.7" r="5.25" fill="rgb(188,188,188)" fill-opacity="0.9"/>
<circle cx="165.8" cy="213.2" r="5.25" fill="rgb(188,188,188)" fill-opacity="0.9"/>
<circle cx="164.6" cy="207.6" r="5.25" fill="rgb(188,188,188)" fill-opacity="0.9"/>
<circle cx="165.4" cy="202.6" r="5.25" fill="rgb(188,188,188)" fill-opacity="0.9"/>
<circle cx="168.1" cy="219.2" r="5.25" fill="rgb(188,188,188)" fill-opacity="0.9"/>
<circle cx="164.5" cy="198.3" r="5.25" fill="rgb(188,188,188)" fill-opacity="0.9"/>
<circle cx="165.7" cy="221.2" r="5.25" fill="rgb(188,188,188)" fill-opacity="0.9"/>
<circle cx="161.0" cy="220.0" r="5.25" fill="rgb(188,188,188)" fill-opacity="0.9"/>
<circle cx="163.2" cy="209.2" r="5.25" fill="rgb(188,188,188)" fill-opacity="0.9"/>
<circle cx="162.7" cy="221.3" r="5.25" fill="rgb(188,188,188)" fill-opacity="0.9"/>
<circle cx="169.9" cy="216.4" r="5.25" fill="rgb(188,188,188)" fill-opacity="0.9"/>
<circle cx="165.1" cy="206.2" r="5.25" fill="rgb(188,188,188)" fill-opacity="0.9"/>
<circle cx="169.1" cy="219.3" r="5.25" fill="rgb(188,188,188)" fill-opacity="0.9"/>
<circle cx="163.9" cy="209.3" r="5.25" fill="rgb(188,188,188)" fill-opacity="0.9"/>
<circle cx="167.5" cy="199.0" r="5.25" fill="rgb(188,188,188)" fill-opacity="0.9"/>
<circle cx="164.3" cy="198.4" r="5.25" fill="rgb(188,188,188)" fill-opacity="0.9"/>
<circle cx="164.1" cy="213.6" r="5.25" fill="rgb(188,188,188)" fill-opacity="0.9"/>
<circle cx="161.9" cy="217.4" r="5.25" fill="rgb(188,188,188)" fill-opacity="0.9"/>
<circle cx="159.4" cy="220.2" r="5.25" fill="rgb(188,188,188)" fill-opacity="0.9"/>
<circle cx="166.6" cy="202.7" r="5.25" fill="rgb(188,188,188)" fill-opacity="0.9"/>
<circle cx="165.2" cy="198.5" r="5.25" fill="rgb(188,188,188)" fill-opacity="0.9"/>
<circle cx="166.5" cy="218.6" r="5.25" fill="rgb(188,188,188)" fill-opacity="0.9"/>
<circle cx="164.6" cy="204.8" r="5.25" fill="rgb(188,188,188)" fill-opacity="0.9"/>
<circle cx="166.2" cy="207.2" r="5.25" fill="rgb(188,188,188)" fill-opacity="0.9"/>
<circle cx="162.3" cy="207.4" r="5.25" fill="rgb(188,188,188)" fill-opacity="0.9"/>
<circle cx="165.0" cy="218.1" r="5.25" fill="rgb(188,188,188)" fill-opacity="0.9"/>
<circle cx="169.3" cy="224.7" r="5.25" fill="rgb(188,188,188)" fill-opacity="0.9"/>
<circle cx="163.5" cy="224.5" r="5.25" fill="rgb(188,188,188)" fill-opacity="0.9"/>
<circle cx="162.0" cy="221.1" r="5.25" fill="rgb(188,188,188)" fill-opacity="0.9"/>
<circle cx="164.1" cy="205.9" r="5.25" fill="rgb(188,188,188)" fill-opacity="0.9"/>
<circle cx="168.8" cy="225.2" r="5.25" fill="rgb(188,188,188)" fill-opacity="0.9"/>
<circle cx="165.4" cy="203.7" r="5.25" fill="rgb(188,188,188)" fill-opacity="0.9"/>
<circle cx="163.9" cy="207.4" r="5.25" fill="rgb(188,188,188)" fill-opacity="0.9"/>
<circle cx="164.0" cy="208.3" r="5.25" fill="rgb(188,188,188)" fill-opacity="0.9"/>
<circle cx="166.3" cy="202.1" r="5.25" fill="rgb(188,188,188)" fill-opacity="0.9"/>
<circle cx="164.7" cy="220.9" r="5.25" fill="rgb(188,188,188)" fill-opacity="0.9"/>
<circle cx="165.0" cy="222.1" r="5.25" fill="rgb(188,188,188)" fill-opacity="0.9"/>
<circle cx="167.0" cy="201.5" r="5.25" fill="rgb(188,188,188)" fill-opacity="0.9"/>
<circle cx="161.7" cy="223.5" r="5.25" fill="rgb(188,188,188)" fill-opacity="0.9"/>
<circle cx="166.1" cy="196.7" r="5.25" fill="rgb(188,188,188)" fill-opacity="0.9"/>
<circle cx="165.0" cy="213.0" r="5.25" fill="rgb(188,188,188)" fill-opacity="0.9"/>
<circle cx="166.0" cy="226.2" r="5.25" fill="rgb(188,188,188)" fill-opacity="0.9"/>
<circle cx="159.2" cy="221.1" r="5.25" fill="rgb(188,188,188)" fill-opacity="0.9"/>
<circle cx="167.6" cy="213.1" r="5.25" fill="rgb(188,188,188)" fill-opacity="0.9"/>
<circle cx="164.3" cy="198.6" r="5.25" fill="rgb(188,188,188)" fill-opacity="0.9"/>
<circle cx="168.8" cy="219.0" r="5.25" fill="rgb(188,188,188)" fill-opacity="0.9"/>
<circle cx="166.5" cy="198.6" r="5.25" fill="rgb(188,188,188)" fill-opacity="0.9"/>
<circle cx="167.0" cy="200.5" r="5.25" fill="rgb(188,188,188)" fill-opacity="0.9"/>
<circle cx="161.3" cy="216.2" r="5.25" fill="rgb(188,188,188)" fill-opacity="0.9"/>
<circle cx="167.1" cy="202.9" r="5.25" fill="rgb(188,188,188)" fill-opacity="0.9"/>
<circle cx="167.3" cy="212.3" r="5.25" fill="rgb(188,188,188)" fill-opacity="0.9"/>
<circle cx="163.7" cy="208.3" r="5.25" fill="rgb(188,188,188)" fill-opacity="0.9"/>
<circle cx="166.2" cy="226.2" r="5.25" fill="rgb(188,188,188)" fill-opacity="0.9"/>
<circle cx="164.7" cy="211.4" r="5.25" fill="rgb(188,188,188)" fill-opacity="0.9"/>
<circle cx="166.6" cy="218.5" r="5.25" fill="rgb(188,188,188)" fill-opacity="0.9"/>
<circle cx="163.2" cy="224.5" r="5.25" fill="rgb(188,188,188)" fill-opacity="0.9"/>
<circle cx="166.2" cy="221.8" r="5.25" fill="rgb(188,188,188)" fill-opacity="0.9"/>
<circle cx="167.8" cy="222.6" r="5.25" fill="rgb(188,188,188)" fill-opacity="0.9"/>
<circle cx="168.7" cy="222.0" r="5.25" fill="rgb(188,188,188)" fill-opacity="0.9"/>
<circle cx="165.9" cy="225.9" r="5.25" fill="rgb(188,188,188)" fill-opacity="0.9"/>
<circle cx="166.7" cy="212.3" r="5.25" fill="rgb(188,188,188)" fill-opacity="0.9"/>
<circle cx="163.3" cy="221.0" r="5.25" fill="rgb(188,188,188)" fill-opacity="0.9"/>
<circle cx="162.5" cy="209.1" r="5.25" fill="rgb(188,188,188)" fill-opacity="0.9"/>
<circle cx="169.9" cy="219.1" r="5.25" fill="rgb(188,188,188)" fill-opacity="0.9"/>
<circle cx="162.6" cy="207.7" r="5.25" fill="rgb(188,188,188)" fill-opacity="0.9"/>
<circle cx="165.7" cy="202.4" r="5.25" fill="rgb(188,188,188)" fill-opacity="0.9"/>
<circle cx="167.8" cy="205.1" r="5.25" fill="rgb(188,188,188)" fill-opacity="0.9"/>
<circle cx="165.2" cy="197.8" r="5.25" fill="rgb(188,188,188)" fill-opacity="0.9"/>
<circle cx="166.6" cy="199.6" r="5.25" fill="rgb(188,188,188)" fill-opacity="0.9"/>
<circle cx="160.6" cy="220.2" r="5.25" fill="rgb(188,188,188)" fill-opacity="0.9"/>
<circle cx="165.8" cy="197.9" r="5.25" fill="rgb(188,188,188)" fill-opacity="0.9"/>
<circle cx="169.0" cy="214.2" r="5.25" fill="rgb(188,188,188)" fill-opacity="0.9"/>
<circle cx="164.4" cy="197.1" r="5.25" fill="rgb(188,188,188)" fill-opacity="0.9"/>
<circle cx="164.9" cy="201.8" r="5.25" fill="rgb(188,188,188)" fill-opacity="0.9"/>
<circle cx="166.9" cy="203.3" r="5.25" fill="rgb(188,188,188)" fill-opacity="0.9"/>
<circle cx="161.1" cy="214.6" r="5.25" fill="rgb(188,188,188)" fill-opacity="0.9"/>
<circle cx="165.1" cy="201.8" r="5.25" fill="rgb(188,188,188)" fill-opacity="0.9"/>
<circle cx="167.0" cy="201.4" r="5.25" fill="rgb(188,188,188)" fill-opacity="0.9"/>
<circle cx="165.1" cy="205.7" r="5.25" fill="rgb(188,188,188)" fill-opacity="0.9"/>
<circle cx="164.0" cy="221.5" r="5.25" fill="rgb(188,188,188)" fill-opacity="0.9"/>
<circle cx="147.6" cy="178.6" r="5.25" fill="rgb(188,188,188)" fill-opacity="0.6"/>
<circle cx="145.6" cy="183.1" r="5.25" fill="rgb(188,188,188)" fill-opacity="0.6"/>
<circle cx="147.0" cy="190.0" r="5.25" fill="rgb(188,188,188)" fill-opacity="0.6"/>
<circle cx="144.5" cy="195.0" r="5.25" fill="rgb(188,188,188)" fill-opacity="0.6"/>
<circle cx="148.5" cy="193.0" r="5.25" fill="rgb(188,188,188)" fill-opacity="0.6"/>
<circle cx="186.4" cy="225.2" r="5.25" fill="rgb(52,84,168)" fill-opacity="0.68"/>
<circle cx="227.6" cy="218.1" r="5.25" fill="rgb(52,84,168)" fill-opacity="0.68"/>
<circle cx="204.5" cy="226.6" r="5.25" fill="rgb(52,84,168)" fill-opacity="0.68"/>
<circle cx="200.4" cy="215.7" r="5.25" fill="rgb(52,84,168)" fill-opacity="0.68"/>
<circle cx="173.1" cy="226.3" r="5.25" fill="rgb(52,84,168)" fill-opacity="0.68"/>
<circle cx="220.5" cy="217.3" r="5.25" fill="rgb(52,84,168)" fill-opacity="0.68"/>
<circle cx="203.2" cy="220.2" r="5.25" fill="rgb(52,84,168)" fill-opacity="0.68"/>
<circle cx="187.3" cy="227.0" r="5.25" fill="rgb(52,84,168)" fill-opacity="0.68"/>
<circle cx="211.4" cy="215.7" r="5.25" fill="rgb(52,84,168)" fill-opacity="0.68"/>
<circle cx="170.7" cy="219.0" r="5.25" fill="rgb(52,84,168)" fill-opacity="0.68"/>
<circle cx="193.4" cy="224.0" r="5.25" fill="rgb(52,84,168)" fill-opacity="0.68"/>
<circle cx="214.9" cy="221.1" r="5.25" fill="rgb(52,84,168)" fill-opacity="0.68"/>
<circle cx="179.9" cy="210.7" r="5.25" fill="rgb(52,84,168)" fill-opacity="0.68"/>
<circle cx="190.3" cy="215.2" r="5.25" fill="rgb(52,84,168)" fill-opacity="0.68"/>
<circle cx="224.8" cy="220.1" r="5.25" fill="rgb(52,84,168)" fill-opacity="0.68"/>
<circle cx="210.1" cy="227.1" r="5.25" fill="rgb(52,84,168)" fill-opacity="0.68"/>
<circle cx="186.8" cy="219.2" r="5.25" fill="rgb(52,84,168)" fill-opacity="0.68"/>
<circle cx="179.5" cy="222.7" r="5.25" fill="rgb(52,84,168)" fill-opacity="0.68"/>
<circle cx="170.1" cy="224.5" r="5.25" fill="rgb(52,84,168)" fill-opacity="0.68"/>
<circle cx="223.3" cy="224.5" r="5.25" fill="rgb(52,84,168)" fill-opacity="0.68"/>
<circle cx="175.2" cy="213.7" r="5.25" fill="rgb(52,84,168)" fill-opacity="0.68"/>
<circle cx="215.1" cy="213.2" r="5.25" fill="rgb(52,84,168)" fill-opacity="0.68"/>
<circle cx="200.2" cy="219.3" r="5.25" fill="rgb(52,84,168)" fill-opacity="0.68"/>
<circle cx="230.2" cy="221.8" r="5.25" fill="rgb(52,84,168)" fill-opacity="0.68"/>
<circle cx="224.0" cy="216.8" r="5.25" fill="rgb(52,84,168)" fill-opacity="0.68"/>
<circle cx="219.7" cy="217.8" r="5.25" fill="rgb(52,84,168)" fill-opacity="0.68"/>
<circle cx="227.8" cy="214.6" r="5.25" fill="rgb(52,84,168)" fill-opacity="0.68"/>
<circle cx="222.1" cy="214.9" r="5.25" fill="rgb(52,84,168)" fill-opacity="0.68"/>
<circle cx="204.2" cy="220.4" r="5.25" fill="rgb(52,84,168)" fill-opacity="0.68"/>
<circle cx="179.9" cy="223.9" r="5.25" fill="rgb(52,84,168)" fill-opacity="0.68"/>
<circle cx="189.6" cy="215.9" r="5.25" fill="rgb(52,84,168)" fill-opacity="0.68"/>
<circle cx="174.8" cy="214.6" r="5.25" fill="rgb(52,84,168)" fill-opacity="0.68"/>
<circle cx="199.4" cy="222.9" r="5.25" fill="rgb(52,84,168)" fill-opacity="0.68"/>
<circle cx="192.7" cy="222.2" r="5.25" fill="rgb(52,84,168)" fill-opacity="0.68"/>
<circle cx="176.7" cy="215.5" r="5.25" fill="rgb(52,84,168)" fill-opacity="0.68"/>
<circle cx="199.1" cy="226.7" r="5.25" fill="rgb(52,84,168)" fill-opacity="0.68"/>
<circle cx="222.3" cy="221.8" r="5.25" fill="rgb(52,84,168)" fill-opacity="0.68"/>
<circle cx="170.8" cy="217.4" r="5.25" fill="rgb(52,84,168)" fill-opacity="0.68"/>
<circle cx="214.7" cy="215.4" r="5.25" fill="rgb(52,84,168)" fill-opacity="0.68"/>
<circle cx="205.5" cy="219.5" r="5.25" fill="rgb(52,84,168)" fill-opacity="0.68"/>
<circle cx="170.7" cy="227.1" r="5.25" fill="rgb(52,84,168)" fill-opacity="0.68"/>
<circle cx="220.4" cy="214.4" r="5.25" fill="rgb(52,84,168)" fill-opacity="0.68"/>
<circle cx="208.8" cy="216.8" r="5.25" fill="rgb(52,84,168)" fill-opacity="0.68"/>
<circle cx="193.7" cy="220.0" r="5.25" fill="rgb(52,84,168)" fill-opacity="0.68"/>
<circle cx="188.8" cy="216.2" r="5.25" fill="rgb(52,84,168)" fill-opacity="0.68"/>
<circle cx="194.7" cy="222.0" r="5.25" fill="rgb(52,84,168)" fill-opacity="0.68"/>
<circle cx="186.2" cy="213.2" r="5.25" fill="rgb(52,84,168)" fill-opacity="0.68"/>
<circle cx="216.1" cy="216.7" r="5.25" fill="rgb(52,84,168)" fill-opacity="0.68"/>
<circle cx="229.5" cy="221.4" r="5.25" fill="rgb(52,84,168)" fill-opacity="0.68"/>
<circle cx="215.6" cy="216.8" r="5.25" fill="rgb(52,84,168)" fill-opacity="0.68"/>
<circle cx="222.1" cy="213.1" r="5.25" fill="rgb(52,84,168)" fill-opacity="0.68"/>
<circle cx="178.9" cy="209.2" r="5.25" fill="rgb(52,84,168)" fill-opacity="0.68"/>
<circle cx="212.7" cy="222.8" r="5.25" fill="rgb(52,84,168)" fill-opacity="0.68"/>
<circle cx="181.3" cy="215.8" r="5.25" fill="rgb(52,84,168)" fill-opacity="0.68"/>
<circle cx="222.7" cy="220.9" r="5.25" fill="rgb(52,84,168)" fill-opacity="0.68"/>
<circle cx="175.7" cy="212.7" r="5.25" fill="rgb(52,84,168)" fill-opacity="0.68"/>
<circle cx="179.9" cy="210.1" r="5.25" fill="rgb(52,84,168)" fill-opacity="0.68"/>
<circle cx="195.6" cy="212.9" r="5.25" fill="rgb(52,84,168)" fill-opacity="0.68"/>
<circle cx="228.0" cy="219.3" r="5.25" fill="rgb(52,84,168)" fill-opacity="0.68"/>
<circle cx="202.2" cy="222.1" r="5.25" fill="rgb(52,84,168)" fill-opacity="0.68"/>
<circle cx="218.3" cy="224.3" r="5.25" fill="rgb(52,84,168)" fill-opacity="0.68"/>
<circle cx="194.3" cy="216.8" r="5.25" fill="rgb(52,84,168)" fill-opacity="0.68"/>
<circle cx="196.0" cy="212.0" r="5.25" fill="rgb(52,84,168)" fill-opacity="0.68"/>
<circle cx="195.2" cy="222.5" r="5.25" fill="rgb(52,84,168)" fill-opacity="0.68"/>
<circle cx="231.9" cy="224.6" r="5.25" fill="rgb(52,84,168)" fill-opacity="0.68"/>
<circle cx="211.6" cy="221.3" r="5.25" fill="rgb(52,84,168)" fill-opacity="0.68"/>
<circle cx="171.2" cy="216.5" r="5.25" fill="rgb(52,84,168)" fill-opacity="0.68"/>
<circle cx="191.6" cy="221.6" r="5.25" fill="rgb(52,84,168)" fill-opacity="0.68"/>
<circle cx="176.7" cy="215.1" r="5.25" fill="rgb(52,84,168)" fill-opacity="0.68"/>
<circle cx="202.1" cy="224.1" r="5.25" fill="rgb(52,84,168)" fill-opacity="0.68"/>
<circle cx="222.0" cy="221.1" r="5.25" fill="rgb(52,84,168)" fill-opacity="0.68"/>
<circle cx="180.0" cy="222.6" r="5.25" fill="rgb(52,84,168)" fill-opacity="0.68"/>
<circle cx="226.9" cy="220.8" r="5.25" fill="rgb(52,84,168)" fill-opacity="0.68"/>
<circle cx="192.2" cy="219.3" r="5.25" fill="rgb(52,84,168)" fill-opacity="0.68"/>
<circle cx="178.9" cy="221.5" r="5.25" fill="rgb(52,84,168)" fill-opacity="0.68"/>
<circle cx="232.2" cy="221.2" r="5.25" fill="rgb(52,84,168)" fill-opacity="0.68"/>
<circle cx="215.1" cy="224.6" r="5.25" fill="rgb(52,84,168)" fill-opacity="0.68"/>
<circle cx="182.4" cy="226.2" r="5.25" fill="rgb(52,84,168)" fill-opacity="0.68"/>
<circle cx="209.5" cy="215.3" r="5.25" fill="rgb(52,84,168)" fill-opacity="0.68"/>
<circle cx="175.2" cy="213.2" r="5.25" fill="rgb(52,84,168)" fill-opacity="0.68"/>
<circle cx="204.2" cy="49.6" r="5.25" fill="rgb(52,84,168)" fill-opacity="0.68"/>
<circle cx="195.9" cy="89.4" r="5.25" fill="rgb(52,84,168)" fill-opacity="0.68"/>
<circle cx="194.1" cy="129.2" r="5.25" fill="rgb(52,84,168)" fill-opacity="0.68"/>
<circle cx="221.6" cy="137.3" r="5.25" fill="rgb(52,84,168)" fill-opacity="0.68"/>
<circle cx="184.6" cy="170.5" r="5.25" fill="rgb(52,84,168)" fill-opacity="0.68"/>
<circle cx="206.2" cy="175.1" r="5.25" fill="rgb(52,84,168)" fill-opacity="0.68"/>
<circle cx="212.2" cy="173.8" r="5.25" fill="rgb(52,84,168)" fill-opacity="0.68"/>
<circle cx="229.2" cy="185.6" r="5.25" fill="rgb(52,84,168)" fill-opacity="0.68"/>
<circle cx="223.3" cy="190.9" r="5.25" fill="rgb(52,84,168)" fill-opacity="0.68"/>
<circle cx="212.5" cy="184.3" r="5.25" fill="rgb(52,84,168)" fill-opacity="0.68"/>
<circle cx="211.8" cy="190.9" r="5.25" fill="rgb(52,84,168)" fill-opacity="0.68"/>
<circle cx="212.5" cy="198.1" r="5.25" fill="rgb(52,84,168)" fill-opacity="0.68"/>
<circle cx="181.9" cy="190.5" r="5.25" fill="rgb(52,84,168)" fill-opacity="0.68"/>
<circle cx="196.4" cy="193.5" r="5.25" fill="rgb(52,84,168)" fill-opacity="0.68"/>
<circle cx="191.1" cy="196.1" r="5.25" fill="rgb(52,84,168)" fill-opacity="0.68"/>
<circle cx="170.8" cy="194.2" r="5.25" fill="rgb(52,84,168)" fill-opacity="0.68"/>
<circle cx="164.9" cy="198.1" r="5.25" fill="rgb(52,84,168)" fill-opacity="0.68"/>
<circle cx="195.1" cy="204.7" r="5.25" fill="rgb(52,84,168)" fill-opacity="0.68"/>
<circle cx="220.0" cy="202.7" r="5.25" fill="rgb(52,84,168)" fill-opacity="0.68"/>
<circle cx="225.3" cy="208.0" r="5.25" fill="rgb(52,84,168)" fill-opacity="0.68"/>
<circle cx="210.2" cy="206.6" r="5.25" fill="rgb(52,84,168)" fill-opacity="0.68"/>
<circle cx="181.3" cy="198.1" r="5.25" fill="rgb(52,84,168)" fill-opacity="0.68"/>
<circle cx="188.7" cy="202.6" r="5.25" fill="rgb(52,84,168)" fill-opacity="0.68"/>
<circle cx="175.0" cy="200.0" r="5.25" fill="rgb(52,84,168)" fill-opacity="0.68"/>
<circle cx="230.0" cy="212.0" r="5.25" fill="rgb(52,84,168)" fill-opacity="0.68"/>
<circle cx="215.0" cy="204.0" r="5.25" fill="rgb(52,84,168)" fill-opacity="0.68"/>
<circle cx="163.6" cy="195.3" r="5.25" fill="rgb(52,84,168)" fill-opacity="0.68"/>
<circle cx="168.0" cy="200.0" r="5.25" fill="rgb(52,84,168)" fill-opacity="0.68"/>
<circle cx="232.0" cy="220.0" r="5.25" fill="rgb(52,84,168)" fill-opacity="0.68"/>
<circle cx="234.0" cy="224.0" r="5.25" fill="rgb(52,84,168)" fill-opacity="0.68"/>
<circle cx="200.0" cy="206.0" r="5.25" fill="rgb(52,84,168)" fill-opacity="0.68"/>
<circle cx="185.0" cy="206.0" r="5.25" fill="rgb(52,84,168)" fill-opacity="0.68"/>
<circle cx="204.0" cy="201.9" r="5.25" fill="rgb(52,84,168)" fill-opacity="0.68"/>
<circle cx="187.7" cy="206.6" r="5.25" fill="rgb(52,84,168)" fill-opacity="0.68"/>
<circle cx="189.8" cy="197.3" r="5.25" fill="rgb(52,84,168)" fill-opacity="0.68"/>
<circle cx="174.2" cy="207.5" r="5.25" fill="rgb(52,84,168)" fill-opacity="0.68"/>
<circle cx="174.9" cy="206.1" r="5.25" fill="rgb(52,84,168)" fill-opacity="0.68"/>
<circle cx="201.9" cy="199.2" r="5.25" fill="rgb(52,84,168)" fill-opacity="0.68"/>
<circle cx="203.0" cy="193.3" r="5.25" fill="rgb(52,84,168)" fill-opacity="0.68"/>
<circle cx="226.0" cy="207.8" r="5.25" fill="rgb(52,84,168)" fill-opacity="0.68"/>
<circle cx="220.0" cy="200.0" r="5.25" fill="rgb(52,84,168)" fill-opacity="0.68"/>
<circle cx="174.1" cy="204.5" r="5.25" fill="rgb(52,84,168)" fill-opacity="0.68"/>
<circle cx="185.0" cy="205.9" r="5.25" fill="rgb(52,84,168)" fill-opacity="0.68"/>
<circle cx="181.9" cy="199.5" r="5.25" fill="rgb(52,84,168)" fill-opacity="0.68"/>
<circle cx="220.8" cy="191.7" r="5.25" fill="rgb(52,84,168)" fill-opacity="0.68"/>
<circle cx="202.2" cy="189.5" r="5.25" fill="rgb(52,84,168)" fill-opacity="0.68"/>
<circle cx="168.1" cy="191.6" r="5.25" fill="rgb(52,84,168)" fill-opacity="0.68"/>
<circle cx="231.1" cy="206.8" r="5.25" fill="rgb(52,84,168)" fill-opacity="0.68"/>
<circle cx="147.6" cy="178.4" r="5.25" fill="rgb(188,188,188)" fill-opacity="0.8"/>
<circle cx="165.3" cy="186.4" r="5.25" fill="rgb(188,188,188)" fill-opacity="0.8"/>
<circle cx="146.0" cy="186.0" r="5.25" fill="rgb(188,188,188)" fill-opacity="0.8"/>
<circle cx="144.0" cy="193.0" r="5.25" fill="rgb(188,188,188)" fill-opacity="0.8"/>
<circle cx="68.1" cy="227.2" r="5.25" fill="rgb(188,188,188)" fill-opacity="0.8"/>
<circle cx="235.1" cy="226.7" r="5.25" fill="rgb(188,188,188)" fill-opacity="0.8"/>
<circle cx="62.5" cy="227.2" r="5.25" fill="rgb(188,188,188)" fill-opacity="0.8"/>
<circle cx="214.1" cy="226.2" r="5.25" fill="rgb(188,188,188)" fill-opacity="0.45"/>
<circle cx="176.7" cy="225.7" r="5.25" fill="rgb(188,188,188)" fill-opacity="0.45"/>
<circle cx="122.8" cy="227.2" r="5.25" fill="rgb(188,188,188)" fill-opacity="0.45"/>
<circle cx="131.5" cy="226.2" r="5.25" fill="rgb(188,188,188)" fill-opacity="0.45"/>
<line x1="143.00" y1="44.10" x2="143.00" y2="236.00" stroke="#000" stroke-width="2.2" stroke-dasharray="7.6 7.76"/>
<line x1="165.20" y1="44.10" x2="165.20" y2="236.00" stroke="#000" stroke-width="2.2" stroke-dasharray="7.6 7.76"/>
<line x1="60.40" y1="226.80" x2="242.70" y2="226.80" stroke="#000" stroke-width="2.3" stroke-dasharray="7.4 8.01"/>
<polyline points="60.25,41 60.25,236.3 243.6,236.3" fill="none" stroke="#2a2a2a" stroke-width="1.35" stroke-linejoin="round"/>
<line x1="57.60" y1="227.40" x2="60.20" y2="227.40" stroke="#333" stroke-width="1.1" />
<text x="55.3" y="232.1" font-size="13.8" text-anchor="end" fill="#4d4d4d" font-weight="normal" >0</text>
<line x1="57.60" y1="163.05" x2="60.20" y2="163.05" stroke="#333" stroke-width="1.1" />
<text x="55.3" y="167.8" font-size="13.8" text-anchor="end" fill="#4d4d4d" font-weight="normal" >100</text>
<line x1="57.60" y1="98.70" x2="60.20" y2="98.70" stroke="#333" stroke-width="1.1" />
<text x="55.3" y="103.4" font-size="13.8" text-anchor="end" fill="#4d4d4d" font-weight="normal" >200</text>
<line x1="62.64" y1="236.30" x2="62.64" y2="238.80" stroke="#333" stroke-width="1.1" />
<text x="62.6" y="250.2" font-size="13.3" text-anchor="middle" fill="#4d4d4d" font-weight="normal" >−8</text>
<line x1="108.32" y1="236.30" x2="108.32" y2="238.80" stroke="#333" stroke-width="1.1" />
<text x="108.3" y="250.2" font-size="13.3" text-anchor="middle" fill="#4d4d4d" font-weight="normal" >−4</text>
<line x1="154.00" y1="236.30" x2="154.00" y2="238.80" stroke="#333" stroke-width="1.1" />
<text x="154.0" y="250.2" font-size="13.3" text-anchor="middle" fill="#4d4d4d" font-weight="normal" >0</text>
<line x1="199.68" y1="236.30" x2="199.68" y2="238.80" stroke="#333" stroke-width="1.1" />
<text x="199.7" y="250.2" font-size="13.3" text-anchor="middle" fill="#4d4d4d" font-weight="normal" >4</text>
<text x="0" y="0" font-size="14.8" fill="#1a1a1a" text-anchor="middle" transform="translate(24.0,138.8) rotate(-90)">−log<tspan font-size="10.4" dy="3">10</tspan><tspan dy="-3">(P)</tspan></text>
<text x="152" y="267.8" font-size="14.5" fill="#1a1a1a" text-anchor="middle">log<tspan font-size="10.5" dy="3">2</tspan><tspan dy="-3">(FC)</tspan></text>
<polyline points="517.05,23.6 517.05,238.35 608.2,238.35" fill="none" stroke="#111" stroke-width="1.6" stroke-linejoin="round"/>
<line x1="513.50" y1="35.60" x2="516.90" y2="35.60" stroke="#333" stroke-width="1.1" />
<text x="510.4" y="39.1" font-size="11.7" text-anchor="end" fill="#4d4d4d" font-weight="normal" >positive regulation of cytokine production</text>
<circle cx="604.6" cy="35.6" r="4.85" fill="#806c96" stroke="#1a1a1a" stroke-width="0.75"/>
<line x1="513.50" y1="56.50" x2="516.90" y2="56.50" stroke="#333" stroke-width="1.1" />
<text x="510.4" y="60.0" font-size="11.7" text-anchor="end" fill="#4d4d4d" font-weight="normal" >response to molecule of bacterial origin</text>
<circle cx="583.6" cy="56.5" r="4.4" fill="#d75a5f" stroke="#1a1a1a" stroke-width="0.75"/>
<line x1="513.50" y1="77.70" x2="516.90" y2="77.70" stroke="#333" stroke-width="1.1" />
<text x="510.4" y="81.2" font-size="11.7" text-anchor="end" fill="#4d4d4d" font-weight="normal" >response to lipopolysaccharide</text>
<circle cx="576.8" cy="77.7" r="4.4" fill="#aa6482" stroke="#1a1a1a" stroke-width="0.75"/>
<line x1="513.50" y1="98.80" x2="516.90" y2="98.80" stroke="#333" stroke-width="1.1" />
<text x="510.4" y="97.4" font-size="11.7" text-anchor="end" fill="#4d4d4d" font-weight="normal" >cell−cell adhesion via plasma−membrane adhesion</text>
<text x="510.4" y="107.4" font-size="11.7" text-anchor="end" fill="#4d4d4d" font-weight="normal" >molecules</text>
<circle cx="569.7" cy="98.8" r="4.25" fill="#d95a5f" stroke="#1a1a1a" stroke-width="0.75"/>
<line x1="513.50" y1="120.10" x2="516.90" y2="120.10" stroke="#333" stroke-width="1.1" />
<text x="510.4" y="123.6" font-size="11.7" text-anchor="end" fill="#4d4d4d" font-weight="normal" >cellular response to molecule of bacterial origin</text>
<circle cx="551.2" cy="120.1" r="3.65" fill="#646eaa" stroke="#1a1a1a" stroke-width="0.75"/>
<line x1="513.50" y1="141.20" x2="516.90" y2="141.20" stroke="#333" stroke-width="1.1" />
<text x="510.4" y="144.7" font-size="11.7" text-anchor="end" fill="#4d4d4d" font-weight="normal" >cellular response to lipopolysaccharide</text>
<circle cx="548.9" cy="141.2" r="3.6" fill="#646eaa" stroke="#1a1a1a" stroke-width="0.75"/>
<line x1="513.50" y1="162.30" x2="516.90" y2="162.30" stroke="#333" stroke-width="1.1" />
<text x="510.4" y="160.9" font-size="11.7" text-anchor="end" fill="#4d4d4d" font-weight="normal" >homophilic cell adhesion via plasma membrane</text>
<text x="510.4" y="170.9" font-size="11.7" text-anchor="end" fill="#4d4d4d" font-weight="normal" >adhesion molecules</text>
<circle cx="541.8" cy="162.3" r="3.35" fill="#d75a5f" stroke="#1a1a1a" stroke-width="0.75"/>
<line x1="513.50" y1="183.40" x2="516.90" y2="183.40" stroke="#333" stroke-width="1.1" />
<text x="510.4" y="186.9" font-size="11.7" text-anchor="end" fill="#4d4d4d" font-weight="normal" >granulocyte chemotaxis</text>
<circle cx="525.8" cy="183.4" r="2.55" fill="#2873b9" stroke="#1a1a1a" stroke-width="0.75"/>
<line x1="513.50" y1="204.80" x2="516.90" y2="204.80" stroke="#333" stroke-width="1.1" />
<text x="510.4" y="208.3" font-size="11.7" text-anchor="end" fill="#4d4d4d" font-weight="normal" >neutrophil migration</text>
<circle cx="525.8" cy="204.8" r="2.55" fill="#2873b9" stroke="#1a1a1a" stroke-width="0.75"/>
<line x1="513.50" y1="225.80" x2="516.90" y2="225.80" stroke="#333" stroke-width="1.1" />
<text x="510.4" y="229.3" font-size="11.7" text-anchor="end" fill="#4d4d4d" font-weight="normal" >neutrophil chemotaxis</text>
<circle cx="520.9" cy="225.8" r="1.7" fill="#6e6eaf" stroke="#1a1a1a" stroke-width="0.75"/>
<line x1="520.60" y1="238.40" x2="520.60" y2="242.60" stroke="#333" stroke-width="1.2" />
<text x="520.6" y="253.0" font-size="10.3" text-anchor="middle" fill="#4d4d4d" font-weight="normal" >0.02</text>
<line x1="545.00" y1="238.40" x2="545.00" y2="242.60" stroke="#333" stroke-width="1.2" />
<text x="545.0" y="253.0" font-size="10.3" text-anchor="middle" fill="#4d4d4d" font-weight="normal" >0.03</text>
<line x1="569.40" y1="238.40" x2="569.40" y2="242.60" stroke="#333" stroke-width="1.2" />
<text x="569.4" y="253.0" font-size="10.3" text-anchor="middle" fill="#4d4d4d" font-weight="normal" >0.04</text>
<line x1="593.80" y1="238.40" x2="593.80" y2="242.60" stroke="#333" stroke-width="1.2" />
<text x="593.8" y="253.0" font-size="10.3" text-anchor="middle" fill="#4d4d4d" font-weight="normal" >0.05</text>
<text x="563.0" y="266.0" font-size="10.1" text-anchor="middle" fill="#1a1a1a" font-weight="normal" >GeneRatio</text>
<text x="616.6" y="94.2" font-size="10.1" text-anchor="start" fill="#1a1a1a" font-weight="normal" >p.adjust</text>
<defs><linearGradient id="gB" x1="0" y1="0" x2="0" y2="1"><stop offset="0" stop-color="#e0585a"/><stop offset="0.5" stop-color="#8f6488"/><stop offset="1" stop-color="#3a7fc4"/></linearGradient><linearGradient id="gE" x1="0" y1="0" x2="0" y2="1"><stop offset="0" stop-color="#e0585a"/><stop offset="0.5" stop-color="#8f6488"/><stop offset="1" stop-color="#3a7fc4"/></linearGradient></defs>
<rect x="616.9" y="99.4" width="6.2" height="30.6" fill="url(#gB)"/>
<line x1="616.90" y1="107.30" x2="618.20" y2="107.30" stroke="#fff" stroke-width="0.6" />
<line x1="621.80" y1="107.30" x2="623.10" y2="107.30" stroke="#fff" stroke-width="0.6" />
<text x="626.4" y="110.6" font-size="10.1" text-anchor="start" fill="#1a1a1a" font-weight="normal" >1e−04</text>
<line x1="616.90" y1="118.30" x2="618.20" y2="118.30" stroke="#fff" stroke-width="0.6" />
<line x1="621.80" y1="118.30" x2="623.10" y2="118.30" stroke="#fff" stroke-width="0.6" />
<text x="626.4" y="121.6" font-size="10.1" text-anchor="start" fill="#1a1a1a" font-weight="normal" >2e−04</text>
<line x1="616.90" y1="129.20" x2="618.20" y2="129.20" stroke="#fff" stroke-width="0.6" />
<line x1="621.80" y1="129.20" x2="623.10" y2="129.20" stroke="#fff" stroke-width="0.6" />
<text x="626.4" y="132.5" font-size="10.1" text-anchor="start" fill="#1a1a1a" font-weight="normal" >3e−04</text>
<text x="616.9" y="148.0" font-size="10.1" text-anchor="start" fill="#1a1a1a" font-weight="normal" >Count</text>
<circle cx="620.4" cy="156.4" r="3.1" fill="none" stroke="#1a1a1a" stroke-width="0.9"/>
<text x="627.0" y="159.8" font-size="10.1" text-anchor="start" fill="#1a1a1a" font-weight="normal" >30</text>
<circle cx="620.4" cy="167.8" r="3.9" fill="none" stroke="#1a1a1a" stroke-width="0.9"/>
<text x="627.0" y="171.2" font-size="10.1" text-anchor="start" fill="#1a1a1a" font-weight="normal" >40</text>
<circle cx="620.4" cy="179.8" r="4.6" fill="none" stroke="#1a1a1a" stroke-width="0.9"/>
<text x="627.0" y="183.2" font-size="10.1" text-anchor="start" fill="#1a1a1a" font-weight="normal" >50</text>
<rect x="200.6" y="303.2" width="176.6" height="34.2" fill="#a8719f"/>
<line x1="189.30" y1="320.30" x2="192.00" y2="320.30" stroke="#333" stroke-width="1.1" />
<text x="188.6" y="325.3" font-size="14.2" text-anchor="end" fill="#4d4d4d" font-weight="normal" >CE</text>
<rect x="200.6" y="342.3" width="29.8" height="34.2" fill="#1f9dd8"/>
<line x1="189.30" y1="359.40" x2="192.00" y2="359.40" stroke="#333" stroke-width="1.1" />
<text x="188.6" y="364.4" font-size="14.2" text-anchor="end" fill="#4d4d4d" font-weight="normal" >RI</text>
<rect x="200.6" y="380.8" width="29.8" height="34.2" fill="#00a472"/>
<line x1="189.30" y1="397.90" x2="192.00" y2="397.90" stroke="#333" stroke-width="1.1" />
<text x="188.6" y="402.9" font-size="14.2" text-anchor="end" fill="#4d4d4d" font-weight="normal" >A3SS</text>
<rect x="200.6" y="419.7" width="23.7" height="34.2" fill="#8e9a3b"/>
<line x1="189.30" y1="436.80" x2="192.00" y2="436.80" stroke="#333" stroke-width="1.1" />
<text x="188.6" y="441.8" font-size="14.2" text-anchor="end" fill="#4d4d4d" font-weight="normal" >A5SS</text>
<rect x="200.6" y="458.2" width="20.3" height="34.2" fill="#e56b63"/>
<line x1="189.30" y1="475.35" x2="192.00" y2="475.35" stroke="#333" stroke-width="1.1" />
<text x="188.6" y="480.4" font-size="14.2" text-anchor="end" fill="#4d4d4d" font-weight="normal" >MXE</text>
<polyline points="192.05,297.7 192.05,498.3 385.5,498.3" fill="none" stroke="#2a2a2a" stroke-width="1.6" stroke-linejoin="round"/>
<line x1="200.60" y1="498.30" x2="200.60" y2="500.90" stroke="#333" stroke-width="1.1" />
<text x="200.6" y="512.7" font-size="13.9" text-anchor="middle" fill="#4d4d4d" font-weight="normal" >0</text>
<line x1="258.50" y1="498.30" x2="258.50" y2="500.90" stroke="#333" stroke-width="1.1" />
<text x="258.5" y="512.7" font-size="13.9" text-anchor="middle" fill="#4d4d4d" font-weight="normal" >200</text>
<line x1="316.40" y1="498.30" x2="316.40" y2="500.90" stroke="#333" stroke-width="1.1" />
<text x="316.4" y="512.7" font-size="13.9" text-anchor="middle" fill="#4d4d4d" font-weight="normal" >400</text>
<line x1="374.30" y1="498.30" x2="374.30" y2="500.90" stroke="#333" stroke-width="1.1" />
<text x="374.3" y="512.7" font-size="13.9" text-anchor="middle" fill="#4d4d4d" font-weight="normal" >600</text>
<text x="288.6" y="526.6" font-size="13.9" text-anchor="middle" fill="#1a1a1a" font-weight="normal" >Sig Events</text>
<clipPath id="cD"><rect x="481.2" y="300.4" width="204" height="192"/></clipPath>
<g clip-path="url(#cD)">
<circle cx="563.0" cy="464.4" r="5.4" fill="rgb(231,34,50)" fill-opacity="0.73"/>
<circle cx="569.0" cy="473.4" r="5.4" fill="rgb(231,34,50)" fill-opacity="0.73"/>
<circle cx="568.6" cy="470.5" r="5.4" fill="rgb(231,34,50)" fill-opacity="0.73"/>
<circle cx="554.4" cy="433.5" r="5.4" fill="rgb(231,34,50)" fill-opacity="0.73"/>
<circle cx="559.1" cy="481.1" r="5.4" fill="rgb(231,34,50)" fill-opacity="0.73"/>
<circle cx="540.8" cy="478.8" r="5.4" fill="rgb(231,34,50)" fill-opacity="0.73"/>
<circle cx="547.6" cy="456.4" r="5.4" fill="rgb(231,34,50)" fill-opacity="0.73"/>
<circle cx="557.8" cy="460.3" r="5.4" fill="rgb(231,34,50)" fill-opacity="0.73"/>
<circle cx="546.7" cy="432.7" r="5.4" fill="rgb(231,34,50)" fill-opacity="0.73"/>
<circle cx="568.4" cy="446.5" r="5.4" fill="rgb(231,34,50)" fill-opacity="0.73"/>
<circle cx="544.9" cy="471.8" r="5.4" fill="rgb(231,34,50)" fill-opacity="0.73"/>
<circle cx="541.7" cy="473.5" r="5.4" fill="rgb(231,34,50)" fill-opacity="0.73"/>
<circle cx="543.9" cy="464.1" r="5.4" fill="rgb(231,34,50)" fill-opacity="0.73"/>
<circle cx="567.0" cy="432.1" r="5.4" fill="rgb(231,34,50)" fill-opacity="0.73"/>
<circle cx="546.7" cy="442.9" r="5.4" fill="rgb(231,34,50)" fill-opacity="0.73"/>
<circle cx="566.7" cy="483.1" r="5.4" fill="rgb(231,34,50)" fill-opacity="0.73"/>
<circle cx="569.8" cy="447.0" r="5.4" fill="rgb(231,34,50)" fill-opacity="0.73"/>
<circle cx="561.0" cy="460.0" r="5.4" fill="rgb(231,34,50)" fill-opacity="0.73"/>
<circle cx="569.2" cy="442.6" r="5.4" fill="rgb(231,34,50)" fill-opacity="0.73"/>
<circle cx="570.0" cy="467.9" r="5.4" fill="rgb(231,34,50)" fill-opacity="0.73"/>
<circle cx="547.2" cy="478.5" r="5.4" fill="rgb(231,34,50)" fill-opacity="0.73"/>
<circle cx="545.1" cy="450.8" r="5.4" fill="rgb(231,34,50)" fill-opacity="0.73"/>
<circle cx="542.0" cy="439.6" r="5.4" fill="rgb(231,34,50)" fill-opacity="0.73"/>
<circle cx="558.7" cy="447.7" r="5.4" fill="rgb(231,34,50)" fill-opacity="0.73"/>
<circle cx="561.0" cy="432.2" r="5.4" fill="rgb(231,34,50)" fill-opacity="0.73"/>
<circle cx="549.6" cy="449.6" r="5.4" fill="rgb(231,34,50)" fill-opacity="0.73"/>
<circle cx="553.3" cy="474.6" r="5.4" fill="rgb(231,34,50)" fill-opacity="0.73"/>
<circle cx="554.9" cy="448.4" r="5.4" fill="rgb(231,34,50)" fill-opacity="0.73"/>
<circle cx="541.8" cy="468.6" r="5.4" fill="rgb(231,34,50)" fill-opacity="0.73"/>
<circle cx="537.8" cy="482.7" r="5.4" fill="rgb(231,34,50)" fill-opacity="0.73"/>
<circle cx="566.2" cy="471.0" r="5.4" fill="rgb(231,34,50)" fill-opacity="0.73"/>
<circle cx="564.4" cy="432.9" r="5.4" fill="rgb(231,34,50)" fill-opacity="0.73"/>
<circle cx="557.9" cy="451.0" r="5.4" fill="rgb(231,34,50)" fill-opacity="0.73"/>
<circle cx="541.4" cy="432.5" r="5.4" fill="rgb(231,34,50)" fill-opacity="0.73"/>
<circle cx="569.6" cy="441.4" r="5.4" fill="rgb(231,34,50)" fill-opacity="0.73"/>
<circle cx="563.4" cy="442.2" r="5.4" fill="rgb(231,34,50)" fill-opacity="0.73"/>
<circle cx="569.0" cy="480.3" r="5.4" fill="rgb(231,34,50)" fill-opacity="0.73"/>
<circle cx="551.0" cy="449.9" r="5.4" fill="rgb(231,34,50)" fill-opacity="0.73"/>
<circle cx="564.0" cy="459.3" r="5.4" fill="rgb(231,34,50)" fill-opacity="0.73"/>
<circle cx="563.2" cy="437.6" r="5.4" fill="rgb(231,34,50)" fill-opacity="0.73"/>
<circle cx="566.2" cy="473.5" r="5.4" fill="rgb(231,34,50)" fill-opacity="0.73"/>
<circle cx="569.3" cy="433.9" r="5.4" fill="rgb(231,34,50)" fill-opacity="0.73"/>
<circle cx="550.6" cy="436.7" r="5.4" fill="rgb(231,34,50)" fill-opacity="0.73"/>
<circle cx="568.5" cy="463.8" r="5.4" fill="rgb(231,34,50)" fill-opacity="0.73"/>
<circle cx="568.7" cy="449.7" r="5.4" fill="rgb(231,34,50)" fill-opacity="0.73"/>
<circle cx="549.7" cy="460.3" r="5.4" fill="rgb(231,34,50)" fill-opacity="0.73"/>
<circle cx="545.5" cy="448.5" r="5.4" fill="rgb(231,34,50)" fill-opacity="0.73"/>
<circle cx="544.6" cy="436.1" r="5.4" fill="rgb(231,34,50)" fill-opacity="0.73"/>
<circle cx="570.9" cy="467.8" r="5.4" fill="rgb(231,34,50)" fill-opacity="0.73"/>
<circle cx="541.5" cy="440.4" r="5.4" fill="rgb(231,34,50)" fill-opacity="0.73"/>
<circle cx="555.1" cy="483.3" r="5.4" fill="rgb(231,34,50)" fill-opacity="0.73"/>
<circle cx="547.4" cy="453.1" r="5.4" fill="rgb(231,34,50)" fill-opacity="0.73"/>
<circle cx="565.6" cy="462.9" r="5.4" fill="rgb(231,34,50)" fill-opacity="0.73"/>
<circle cx="553.1" cy="455.7" r="5.4" fill="rgb(231,34,50)" fill-opacity="0.73"/>
<circle cx="568.4" cy="434.9" r="5.4" fill="rgb(231,34,50)" fill-opacity="0.73"/>
<circle cx="555.3" cy="433.7" r="5.4" fill="rgb(231,34,50)" fill-opacity="0.73"/>
<circle cx="541.4" cy="475.6" r="5.4" fill="rgb(231,34,50)" fill-opacity="0.73"/>
<circle cx="569.4" cy="470.0" r="5.4" fill="rgb(231,34,50)" fill-opacity="0.73"/>
<circle cx="564.4" cy="464.8" r="5.4" fill="rgb(231,34,50)" fill-opacity="0.73"/>
<circle cx="553.5" cy="437.5" r="5.4" fill="rgb(231,34,50)" fill-opacity="0.73"/>
<circle cx="566.2" cy="439.8" r="5.4" fill="rgb(231,34,50)" fill-opacity="0.73"/>
<circle cx="554.0" cy="447.3" r="5.4" fill="rgb(231,34,50)" fill-opacity="0.73"/>
<circle cx="566.0" cy="484.0" r="5.4" fill="rgb(231,34,50)" fill-opacity="0.73"/>
<circle cx="552.4" cy="482.8" r="5.4" fill="rgb(231,34,50)" fill-opacity="0.73"/>
<circle cx="562.6" cy="457.4" r="5.4" fill="rgb(231,34,50)" fill-opacity="0.73"/>
<circle cx="549.0" cy="456.9" r="5.4" fill="rgb(231,34,50)" fill-opacity="0.73"/>
<circle cx="544.5" cy="453.0" r="5.4" fill="rgb(231,34,50)" fill-opacity="0.73"/>
<circle cx="570.6" cy="451.6" r="5.4" fill="rgb(231,34,50)" fill-opacity="0.73"/>
<circle cx="558.3" cy="481.9" r="5.4" fill="rgb(231,34,50)" fill-opacity="0.73"/>
<circle cx="550.5" cy="458.0" r="5.4" fill="rgb(231,34,50)" fill-opacity="0.73"/>
<circle cx="548.4" cy="436.6" r="5.4" fill="rgb(231,34,50)" fill-opacity="0.73"/>
<circle cx="566.5" cy="472.7" r="5.4" fill="rgb(231,34,50)" fill-opacity="0.73"/>
<circle cx="564.4" cy="450.8" r="5.4" fill="rgb(231,34,50)" fill-opacity="0.73"/>
<circle cx="560.6" cy="472.3" r="5.4" fill="rgb(231,34,50)" fill-opacity="0.73"/>
<circle cx="563.5" cy="466.5" r="5.4" fill="rgb(231,34,50)" fill-opacity="0.73"/>
<circle cx="561.8" cy="450.9" r="5.4" fill="rgb(231,34,50)" fill-opacity="0.73"/>
<circle cx="555.1" cy="446.6" r="5.4" fill="rgb(231,34,50)" fill-opacity="0.73"/>
<circle cx="560.5" cy="472.0" r="5.4" fill="rgb(231,34,50)" fill-opacity="0.73"/>
<circle cx="569.3" cy="447.3" r="5.4" fill="rgb(231,34,50)" fill-opacity="0.73"/>
<circle cx="558.0" cy="465.8" r="5.4" fill="rgb(231,34,50)" fill-opacity="0.73"/>
<circle cx="557.0" cy="432.6" r="5.4" fill="rgb(231,34,50)" fill-opacity="0.73"/>
<circle cx="560.8" cy="445.0" r="5.4" fill="rgb(231,34,50)" fill-opacity="0.73"/>
<circle cx="565.3" cy="456.1" r="5.4" fill="rgb(231,34,50)" fill-opacity="0.73"/>
<circle cx="564.7" cy="465.7" r="5.4" fill="rgb(231,34,50)" fill-opacity="0.73"/>
<circle cx="560.0" cy="450.1" r="5.4" fill="rgb(231,34,50)" fill-opacity="0.73"/>
<circle cx="565.7" cy="470.4" r="5.4" fill="rgb(231,34,50)" fill-opacity="0.73"/>
<circle cx="566.1" cy="450.2" r="5.4" fill="rgb(231,34,50)" fill-opacity="0.73"/>
<circle cx="560.4" cy="477.2" r="5.4" fill="rgb(231,34,50)" fill-opacity="0.73"/>
<circle cx="569.5" cy="482.8" r="5.4" fill="rgb(231,34,50)" fill-opacity="0.73"/>
<circle cx="556.4" cy="458.9" r="5.4" fill="rgb(231,34,50)" fill-opacity="0.73"/>
<circle cx="565.9" cy="440.6" r="5.4" fill="rgb(231,34,50)" fill-opacity="0.73"/>
<circle cx="553.2" cy="480.7" r="5.4" fill="rgb(231,34,50)" fill-opacity="0.73"/>
<circle cx="562.3" cy="468.0" r="5.4" fill="rgb(231,34,50)" fill-opacity="0.73"/>
<circle cx="545.3" cy="470.0" r="5.4" fill="rgb(231,34,50)" fill-opacity="0.73"/>
<circle cx="556.7" cy="472.6" r="5.4" fill="rgb(231,34,50)" fill-opacity="0.73"/>
<circle cx="553.0" cy="466.6" r="5.4" fill="rgb(231,34,50)" fill-opacity="0.73"/>
<circle cx="564.0" cy="464.4" r="5.4" fill="rgb(231,34,50)" fill-opacity="0.73"/>
<circle cx="562.3" cy="465.1" r="5.4" fill="rgb(231,34,50)" fill-opacity="0.73"/>
<circle cx="545.0" cy="433.4" r="5.4" fill="rgb(231,34,50)" fill-opacity="0.73"/>
<circle cx="560.2" cy="454.9" r="5.4" fill="rgb(231,34,50)" fill-opacity="0.73"/>
<circle cx="561.3" cy="443.4" r="5.4" fill="rgb(231,34,50)" fill-opacity="0.73"/>
<circle cx="541.3" cy="464.8" r="5.4" fill="rgb(231,34,50)" fill-opacity="0.73"/>
<circle cx="547.0" cy="456.5" r="5.4" fill="rgb(231,34,50)" fill-opacity="0.73"/>
<circle cx="544.1" cy="434.8" r="5.4" fill="rgb(231,34,50)" fill-opacity="0.73"/>
<circle cx="545.6" cy="448.5" r="5.4" fill="rgb(231,34,50)" fill-opacity="0.73"/>
<circle cx="541.1" cy="442.1" r="5.4" fill="rgb(231,34,50)" fill-opacity="0.73"/>
<circle cx="551.8" cy="456.2" r="5.4" fill="rgb(231,34,50)" fill-opacity="0.73"/>
<circle cx="558.3" cy="463.8" r="5.4" fill="rgb(231,34,50)" fill-opacity="0.73"/>
<circle cx="568.0" cy="444.4" r="5.4" fill="rgb(231,34,50)" fill-opacity="0.73"/>
<circle cx="552.6" cy="432.0" r="5.4" fill="rgb(231,34,50)" fill-opacity="0.73"/>
<circle cx="552.7" cy="446.5" r="5.4" fill="rgb(231,34,50)" fill-opacity="0.73"/>
<circle cx="565.8" cy="438.0" r="5.4" fill="rgb(231,34,50)" fill-opacity="0.73"/>
<circle cx="541.1" cy="451.4" r="5.4" fill="rgb(231,34,50)" fill-opacity="0.73"/>
<circle cx="542.9" cy="463.9" r="5.4" fill="rgb(231,34,50)" fill-opacity="0.73"/>
<circle cx="550.5" cy="460.4" r="5.4" fill="rgb(231,34,50)" fill-opacity="0.73"/>
<circle cx="569.7" cy="462.2" r="5.4" fill="rgb(231,34,50)" fill-opacity="0.73"/>
<circle cx="551.2" cy="474.6" r="5.4" fill="rgb(231,34,50)" fill-opacity="0.73"/>
<circle cx="558.8" cy="474.3" r="5.4" fill="rgb(231,34,50)" fill-opacity="0.73"/>
<circle cx="544.4" cy="451.2" r="5.4" fill="rgb(231,34,50)" fill-opacity="0.73"/>
<circle cx="557.5" cy="463.0" r="5.4" fill="rgb(231,34,50)" fill-opacity="0.73"/>
<circle cx="569.9" cy="481.8" r="5.4" fill="rgb(231,34,50)" fill-opacity="0.73"/>
<circle cx="550.9" cy="463.6" r="5.4" fill="rgb(231,34,50)" fill-opacity="0.73"/>
<circle cx="537.0" cy="478.5" r="5.4" fill="rgb(231,34,50)" fill-opacity="0.73"/>
<circle cx="557.5" cy="437.6" r="5.4" fill="rgb(231,34,50)" fill-opacity="0.73"/>
<circle cx="544.4" cy="464.0" r="5.4" fill="rgb(231,34,50)" fill-opacity="0.73"/>
<circle cx="567.6" cy="464.7" r="5.4" fill="rgb(231,34,50)" fill-opacity="0.73"/>
<circle cx="553.4" cy="451.5" r="5.4" fill="rgb(231,34,50)" fill-opacity="0.73"/>
<circle cx="549.0" cy="443.8" r="5.4" fill="rgb(231,34,50)" fill-opacity="0.73"/>
<circle cx="549.9" cy="482.6" r="5.4" fill="rgb(231,34,50)" fill-opacity="0.73"/>
<circle cx="568.1" cy="482.0" r="5.4" fill="rgb(231,34,50)" fill-opacity="0.73"/>
<circle cx="548.1" cy="463.0" r="5.4" fill="rgb(231,34,50)" fill-opacity="0.73"/>
<circle cx="553.9" cy="483.0" r="5.4" fill="rgb(231,34,50)" fill-opacity="0.73"/>
<circle cx="549.9" cy="453.6" r="5.4" fill="rgb(231,34,50)" fill-opacity="0.73"/>
<circle cx="553.7" cy="483.2" r="5.4" fill="rgb(231,34,50)" fill-opacity="0.73"/>
<circle cx="554.8" cy="446.9" r="5.4" fill="rgb(231,34,50)" fill-opacity="0.73"/>
<circle cx="559.3" cy="438.3" r="5.4" fill="rgb(231,34,50)" fill-opacity="0.73"/>
<circle cx="549.1" cy="455.1" r="5.4" fill="rgb(231,34,50)" fill-opacity="0.73"/>
<circle cx="565.1" cy="472.6" r="5.4" fill="rgb(231,34,50)" fill-opacity="0.73"/>
<circle cx="556.5" cy="432.7" r="5.4" fill="rgb(231,34,50)" fill-opacity="0.73"/>
<circle cx="569.0" cy="446.2" r="5.4" fill="rgb(231,34,50)" fill-opacity="0.73"/>
<circle cx="545.4" cy="472.7" r="5.4" fill="rgb(231,34,50)" fill-opacity="0.73"/>
<circle cx="544.8" cy="445.9" r="5.4" fill="rgb(231,34,50)" fill-opacity="0.73"/>
<circle cx="547.0" cy="483.4" r="5.4" fill="rgb(231,34,50)" fill-opacity="0.73"/>
<circle cx="554.7" cy="463.6" r="5.4" fill="rgb(231,34,50)" fill-opacity="0.73"/>
<circle cx="558.7" cy="465.5" r="5.4" fill="rgb(231,34,50)" fill-opacity="0.73"/>
<circle cx="543.7" cy="470.7" r="5.4" fill="rgb(231,34,50)" fill-opacity="0.73"/>
<circle cx="549.3" cy="471.5" r="5.4" fill="rgb(231,34,50)" fill-opacity="0.73"/>
<circle cx="550.4" cy="459.7" r="5.4" fill="rgb(231,34,50)" fill-opacity="0.73"/>
<circle cx="556.4" cy="447.4" r="5.4" fill="rgb(231,34,50)" fill-opacity="0.73"/>
<circle cx="551.2" cy="456.1" r="5.4" fill="rgb(231,34,50)" fill-opacity="0.73"/>
<circle cx="558.3" cy="470.7" r="5.4" fill="rgb(231,34,50)" fill-opacity="0.73"/>
<circle cx="547.8" cy="433.9" r="5.4" fill="rgb(231,34,50)" fill-opacity="0.73"/>
<circle cx="568.4" cy="455.7" r="5.4" fill="rgb(231,34,50)" fill-opacity="0.73"/>
<circle cx="555.6" cy="478.2" r="5.4" fill="rgb(231,34,50)" fill-opacity="0.73"/>
<circle cx="564.1" cy="432.8" r="5.4" fill="rgb(231,34,50)" fill-opacity="0.73"/>
<circle cx="557.8" cy="454.2" r="5.4" fill="rgb(231,34,50)" fill-opacity="0.73"/>
<circle cx="559.6" cy="468.8" r="5.4" fill="rgb(231,34,50)" fill-opacity="0.73"/>
<circle cx="568.3" cy="457.1" r="5.4" fill="rgb(231,34,50)" fill-opacity="0.73"/>
<circle cx="552.1" cy="452.0" r="5.4" fill="rgb(231,34,50)" fill-opacity="0.73"/>
<circle cx="543.7" cy="476.3" r="5.4" fill="rgb(231,34,50)" fill-opacity="0.73"/>
<circle cx="565.7" cy="447.4" r="5.4" fill="rgb(231,34,50)" fill-opacity="0.73"/>
<circle cx="565.9" cy="435.4" r="5.4" fill="rgb(231,34,50)" fill-opacity="0.73"/>
<circle cx="553.4" cy="468.1" r="5.4" fill="rgb(231,34,50)" fill-opacity="0.73"/>
<circle cx="564.2" cy="446.9" r="5.4" fill="rgb(231,34,50)" fill-opacity="0.73"/>
<circle cx="541.9" cy="479.4" r="5.4" fill="rgb(231,34,50)" fill-opacity="0.73"/>
<circle cx="557.0" cy="456.9" r="5.4" fill="rgb(231,34,50)" fill-opacity="0.73"/>
<circle cx="550.3" cy="457.9" r="5.4" fill="rgb(231,34,50)" fill-opacity="0.73"/>
<circle cx="558.2" cy="440.0" r="5.4" fill="rgb(231,34,50)" fill-opacity="0.73"/>
<circle cx="539.3" cy="474.2" r="5.4" fill="rgb(231,34,50)" fill-opacity="0.73"/>
<circle cx="565.4" cy="444.0" r="5.4" fill="rgb(231,34,50)" fill-opacity="0.73"/>
<circle cx="559.6" cy="473.2" r="5.4" fill="rgb(231,34,50)" fill-opacity="0.73"/>
<circle cx="562.4" cy="433.3" r="5.4" fill="rgb(231,34,50)" fill-opacity="0.73"/>
<circle cx="570.9" cy="482.9" r="5.4" fill="rgb(231,34,50)" fill-opacity="0.73"/>
<circle cx="541.5" cy="468.5" r="5.4" fill="rgb(231,34,50)" fill-opacity="0.73"/>
<circle cx="544.5" cy="475.8" r="5.4" fill="rgb(231,34,50)" fill-opacity="0.73"/>
<circle cx="569.5" cy="465.6" r="5.4" fill="rgb(231,34,50)" fill-opacity="0.73"/>
<circle cx="544.2" cy="469.0" r="5.4" fill="rgb(231,34,50)" fill-opacity="0.73"/>
<circle cx="568.5" cy="447.2" r="5.4" fill="rgb(231,34,50)" fill-opacity="0.73"/>
<circle cx="558.9" cy="439.8" r="5.4" fill="rgb(231,34,50)" fill-opacity="0.73"/>
<circle cx="545.0" cy="453.5" r="5.4" fill="rgb(231,34,50)" fill-opacity="0.73"/>
<circle cx="541.4" cy="464.4" r="5.4" fill="rgb(231,34,50)" fill-opacity="0.73"/>
<circle cx="551.8" cy="437.6" r="5.4" fill="rgb(231,34,50)" fill-opacity="0.73"/>
<circle cx="541.8" cy="435.7" r="5.4" fill="rgb(231,34,50)" fill-opacity="0.73"/>
<circle cx="563.0" cy="461.9" r="5.4" fill="rgb(231,34,50)" fill-opacity="0.73"/>
<circle cx="541.6" cy="477.7" r="5.4" fill="rgb(231,34,50)" fill-opacity="0.73"/>
<circle cx="549.8" cy="454.4" r="5.4" fill="rgb(231,34,50)" fill-opacity="0.73"/>
<circle cx="555.2" cy="463.2" r="5.4" fill="rgb(231,34,50)" fill-opacity="0.73"/>
<circle cx="549.7" cy="480.8" r="5.4" fill="rgb(231,34,50)" fill-opacity="0.73"/>
<circle cx="561.6" cy="434.9" r="5.4" fill="rgb(231,34,50)" fill-opacity="0.73"/>
<circle cx="559.6" cy="439.9" r="5.4" fill="rgb(231,34,50)" fill-opacity="0.73"/>
<circle cx="568.2" cy="458.3" r="5.4" fill="rgb(231,34,50)" fill-opacity="0.73"/>
<circle cx="559.2" cy="460.9" r="5.4" fill="rgb(231,34,50)" fill-opacity="0.73"/>
<circle cx="557.1" cy="445.7" r="5.4" fill="rgb(231,34,50)" fill-opacity="0.73"/>
<circle cx="563.3" cy="445.2" r="5.4" fill="rgb(231,34,50)" fill-opacity="0.73"/>
<circle cx="544.1" cy="458.9" r="5.4" fill="rgb(231,34,50)" fill-opacity="0.73"/>
<circle cx="551.5" cy="444.2" r="5.4" fill="rgb(231,34,50)" fill-opacity="0.73"/>
<circle cx="545.6" cy="470.3" r="5.4" fill="rgb(231,34,50)" fill-opacity="0.73"/>
<circle cx="560.3" cy="469.1" r="5.4" fill="rgb(231,34,50)" fill-opacity="0.73"/>
<circle cx="560.7" cy="436.4" r="5.4" fill="rgb(231,34,50)" fill-opacity="0.73"/>
<circle cx="543.9" cy="436.7" r="5.4" fill="rgb(231,34,50)" fill-opacity="0.73"/>
<circle cx="547.4" cy="462.9" r="5.4" fill="rgb(231,34,50)" fill-opacity="0.73"/>
<circle cx="553.3" cy="477.6" r="5.4" fill="rgb(231,34,50)" fill-opacity="0.73"/>
<circle cx="564.7" cy="448.8" r="5.4" fill="rgb(231,34,50)" fill-opacity="0.73"/>
<circle cx="562.5" cy="433.5" r="5.4" fill="rgb(231,34,50)" fill-opacity="0.73"/>
<circle cx="544.7" cy="434.8" r="5.4" fill="rgb(231,34,50)" fill-opacity="0.73"/>
<circle cx="560.2" cy="481.5" r="5.4" fill="rgb(231,34,50)" fill-opacity="0.73"/>
<circle cx="543.6" cy="443.6" r="5.4" fill="rgb(231,34,50)" fill-opacity="0.73"/>
<circle cx="559.6" cy="482.6" r="5.4" fill="rgb(231,34,50)" fill-opacity="0.73"/>
<circle cx="541.8" cy="474.7" r="5.4" fill="rgb(231,34,50)" fill-opacity="0.73"/>
<circle cx="551.0" cy="464.5" r="5.4" fill="rgb(231,34,50)" fill-opacity="0.73"/>
<circle cx="550.3" cy="444.2" r="5.4" fill="rgb(231,34,50)" fill-opacity="0.73"/>
<circle cx="550.8" cy="463.9" r="5.4" fill="rgb(231,34,50)" fill-opacity="0.73"/>
<circle cx="544.2" cy="452.1" r="5.4" fill="rgb(231,34,50)" fill-opacity="0.73"/>
<circle cx="559.0" cy="475.2" r="5.4" fill="rgb(231,34,50)" fill-opacity="0.73"/>
<circle cx="551.7" cy="473.8" r="5.4" fill="rgb(231,34,50)" fill-opacity="0.73"/>
<circle cx="554.6" cy="476.3" r="5.4" fill="rgb(231,34,50)" fill-opacity="0.73"/>
<circle cx="557.8" cy="462.8" r="5.4" fill="rgb(231,34,50)" fill-opacity="0.73"/>
<circle cx="552.3" cy="470.5" r="5.4" fill="rgb(231,34,50)" fill-opacity="0.73"/>
<circle cx="541.0" cy="437.0" r="5.4" fill="rgb(231,34,50)" fill-opacity="0.73"/>
<circle cx="541.2" cy="442.5" r="5.4" fill="rgb(231,34,50)" fill-opacity="0.73"/>
<circle cx="553.4" cy="478.2" r="5.4" fill="rgb(231,34,50)" fill-opacity="0.73"/>
<circle cx="540.0" cy="471.5" r="5.4" fill="rgb(231,34,50)" fill-opacity="0.73"/>
<circle cx="567.6" cy="456.4" r="5.4" fill="rgb(231,34,50)" fill-opacity="0.73"/>
<circle cx="553.3" cy="464.2" r="5.4" fill="rgb(231,34,50)" fill-opacity="0.73"/>
<circle cx="543.1" cy="456.2" r="5.4" fill="rgb(231,34,50)" fill-opacity="0.73"/>
<circle cx="544.9" cy="440.0" r="5.4" fill="rgb(231,34,50)" fill-opacity="0.73"/>
<circle cx="552.0" cy="451.5" r="5.4" fill="rgb(231,34,50)" fill-opacity="0.73"/>
<circle cx="542.2" cy="477.8" r="5.4" fill="rgb(231,34,50)" fill-opacity="0.73"/>
<circle cx="548.6" cy="445.2" r="5.4" fill="rgb(231,34,50)" fill-opacity="0.73"/>
<circle cx="548.9" cy="440.4" r="5.4" fill="rgb(231,34,50)" fill-opacity="0.73"/>
<circle cx="554.9" cy="444.2" r="5.4" fill="rgb(231,34,50)" fill-opacity="0.73"/>
<circle cx="568.7" cy="433.7" r="5.4" fill="rgb(231,34,50)" fill-opacity="0.73"/>
<circle cx="569.1" cy="451.2" r="5.4" fill="rgb(231,34,50)" fill-opacity="0.73"/>
<circle cx="560.9" cy="467.8" r="5.4" fill="rgb(231,34,50)" fill-opacity="0.73"/>
<circle cx="569.3" cy="456.5" r="5.4" fill="rgb(231,34,50)" fill-opacity="0.73"/>
<circle cx="560.7" cy="438.1" r="5.4" fill="rgb(231,34,50)" fill-opacity="0.73"/>
<circle cx="560.9" cy="447.1" r="5.4" fill="rgb(231,34,50)" fill-opacity="0.73"/>
<circle cx="545.1" cy="469.9" r="5.4" fill="rgb(231,34,50)" fill-opacity="0.73"/>
<circle cx="540.8" cy="442.5" r="5.4" fill="rgb(231,34,50)" fill-opacity="0.73"/>
<circle cx="542.4" cy="444.0" r="5.4" fill="rgb(231,34,50)" fill-opacity="0.73"/>
<circle cx="570.2" cy="452.9" r="5.4" fill="rgb(231,34,50)" fill-opacity="0.73"/>
<circle cx="549.7" cy="450.9" r="5.4" fill="rgb(231,34,50)" fill-opacity="0.73"/>
<circle cx="548.8" cy="456.3" r="5.4" fill="rgb(231,34,50)" fill-opacity="0.73"/>
<circle cx="562.3" cy="470.1" r="5.4" fill="rgb(231,34,50)" fill-opacity="0.73"/>
<circle cx="547.5" cy="440.5" r="5.4" fill="rgb(231,34,50)" fill-opacity="0.73"/>
<circle cx="569.2" cy="467.0" r="5.4" fill="rgb(231,34,50)" fill-opacity="0.73"/>
<circle cx="553.4" cy="465.6" r="5.4" fill="rgb(231,34,50)" fill-opacity="0.73"/>
<circle cx="537.2" cy="482.7" r="5.4" fill="rgb(231,34,50)" fill-opacity="0.73"/>
<circle cx="564.2" cy="435.2" r="5.4" fill="rgb(231,34,50)" fill-opacity="0.73"/>
<circle cx="541.4" cy="453.3" r="5.4" fill="rgb(231,34,50)" fill-opacity="0.73"/>
<circle cx="570.7" cy="460.5" r="5.4" fill="rgb(231,34,50)" fill-opacity="0.73"/>
<circle cx="550.9" cy="459.0" r="5.4" fill="rgb(231,34,50)" fill-opacity="0.73"/>
<circle cx="542.2" cy="436.9" r="5.4" fill="rgb(231,34,50)" fill-opacity="0.73"/>
<circle cx="553.7" cy="478.7" r="5.4" fill="rgb(231,34,50)" fill-opacity="0.73"/>
<circle cx="538.8" cy="480.7" r="5.4" fill="rgb(231,34,50)" fill-opacity="0.73"/>
<circle cx="541.6" cy="444.7" r="5.4" fill="rgb(231,34,50)" fill-opacity="0.73"/>
<circle cx="541.9" cy="452.7" r="5.4" fill="rgb(231,34,50)" fill-opacity="0.73"/>
<circle cx="552.6" cy="445.3" r="5.4" fill="rgb(231,34,50)" fill-opacity="0.73"/>
<circle cx="541.6" cy="447.9" r="5.4" fill="rgb(231,34,50)" fill-opacity="0.73"/>
<circle cx="570.1" cy="434.0" r="5.4" fill="rgb(231,34,50)" fill-opacity="0.73"/>
<circle cx="559.2" cy="415.2" r="5.4" fill="rgb(231,34,50)" fill-opacity="0.73"/>
<circle cx="559.8" cy="419.2" r="5.4" fill="rgb(231,34,50)" fill-opacity="0.73"/>
<circle cx="554.5" cy="413.5" r="5.4" fill="rgb(231,34,50)" fill-opacity="0.73"/>
<circle cx="560.0" cy="413.9" r="5.4" fill="rgb(231,34,50)" fill-opacity="0.73"/>
<circle cx="561.4" cy="428.6" r="5.4" fill="rgb(231,34,50)" fill-opacity="0.73"/>
<circle cx="552.1" cy="427.4" r="5.4" fill="rgb(231,34,50)" fill-opacity="0.73"/>
<circle cx="560.0" cy="412.3" r="5.4" fill="rgb(231,34,50)" fill-opacity="0.73"/>
<circle cx="560.7" cy="420.8" r="5.4" fill="rgb(231,34,50)" fill-opacity="0.73"/>
<circle cx="562.0" cy="418.8" r="5.4" fill="rgb(231,34,50)" fill-opacity="0.73"/>
<circle cx="568.9" cy="425.1" r="5.4" fill="rgb(231,34,50)" fill-opacity="0.73"/>
<circle cx="557.8" cy="417.5" r="5.4" fill="rgb(231,34,50)" fill-opacity="0.73"/>
<circle cx="552.4" cy="426.9" r="5.4" fill="rgb(231,34,50)" fill-opacity="0.73"/>
<circle cx="554.5" cy="414.1" r="5.4" fill="rgb(231,34,50)" fill-opacity="0.73"/>
<circle cx="565.5" cy="413.6" r="5.4" fill="rgb(231,34,50)" fill-opacity="0.73"/>
<circle cx="554.5" cy="426.7" r="5.4" fill="rgb(231,34,50)" fill-opacity="0.73"/>
<circle cx="549.0" cy="414.3" r="5.4" fill="rgb(231,34,50)" fill-opacity="0.73"/>
<circle cx="549.0" cy="416.4" r="5.4" fill="rgb(231,34,50)" fill-opacity="0.73"/>
<circle cx="560.8" cy="419.7" r="5.4" fill="rgb(231,34,50)" fill-opacity="0.73"/>
<circle cx="496.1" cy="300.0" r="5.4" fill="rgb(231,34,50)" fill-opacity="0.73"/>
<circle cx="557.1" cy="300.0" r="5.4" fill="rgb(231,34,50)" fill-opacity="0.73"/>
<circle cx="532.2" cy="334.4" r="5.4" fill="rgb(231,34,50)" fill-opacity="0.73"/>
<circle cx="526.4" cy="343.7" r="5.4" fill="rgb(231,34,50)" fill-opacity="0.73"/>
<circle cx="532.9" cy="354.6" r="5.4" fill="rgb(231,34,50)" fill-opacity="0.73"/>
<circle cx="533.4" cy="365.4" r="5.4" fill="rgb(231,34,50)" fill-opacity="0.73"/>
<circle cx="544.3" cy="370.3" r="5.4" fill="rgb(231,34,50)" fill-opacity="0.73"/>
<circle cx="544.5" cy="381.7" r="5.4" fill="rgb(231,34,50)" fill-opacity="0.73"/>
<circle cx="544.5" cy="381.7" r="5.4" fill="rgb(231,34,50)" fill-opacity="0.73"/>
<circle cx="532.6" cy="387.9" r="5.4" fill="rgb(231,34,50)" fill-opacity="0.73"/>
<circle cx="540.4" cy="394.9" r="5.4" fill="rgb(231,34,50)" fill-opacity="0.73"/>
<circle cx="555.7" cy="389.6" r="5.4" fill="rgb(231,34,50)" fill-opacity="0.73"/>
<circle cx="566.7" cy="359.8" r="5.4" fill="rgb(231,34,50)" fill-opacity="0.73"/>
<circle cx="568.5" cy="371.7" r="5.4" fill="rgb(231,34,50)" fill-opacity="0.73"/>
<circle cx="569.7" cy="381.7" r="5.4" fill="rgb(231,34,50)" fill-opacity="0.73"/>
<circle cx="544.1" cy="402.7" r="5.4" fill="rgb(231,34,50)" fill-opacity="0.73"/>
<circle cx="553.3" cy="399.6" r="5.4" fill="rgb(231,34,50)" fill-opacity="0.73"/>
<circle cx="530.3" cy="409.9" r="5.4" fill="rgb(231,34,50)" fill-opacity="0.73"/>
<circle cx="542.1" cy="410.9" r="5.4" fill="rgb(231,34,50)" fill-opacity="0.73"/>
<circle cx="568.1" cy="406.3" r="5.4" fill="rgb(231,34,50)" fill-opacity="0.73"/>
<circle cx="535.4" cy="416.5" r="5.4" fill="rgb(231,34,50)" fill-opacity="0.73"/>
<circle cx="537.0" cy="423.1" r="5.4" fill="rgb(231,34,50)" fill-opacity="0.73"/>
<circle cx="553.8" cy="415.0" r="5.4" fill="rgb(231,34,50)" fill-opacity="0.73"/>
<circle cx="557.9" cy="412.9" r="5.4" fill="rgb(231,34,50)" fill-opacity="0.73"/>
<circle cx="571.0" cy="420.1" r="5.4" fill="rgb(231,34,50)" fill-opacity="0.73"/>
<circle cx="529.6" cy="412.6" r="5.4" fill="rgb(231,34,50)" fill-opacity="0.73"/>
<circle cx="535.5" cy="416.6" r="5.4" fill="rgb(231,34,50)" fill-opacity="0.73"/>
<circle cx="527.0" cy="453.0" r="5.4" fill="rgb(231,34,50)" fill-opacity="0.73"/>
<circle cx="528.0" cy="461.6" r="5.4" fill="rgb(231,34,50)" fill-opacity="0.73"/>
<circle cx="531.0" cy="447.0" r="5.4" fill="rgb(231,34,50)" fill-opacity="0.73"/>
<circle cx="531.5" cy="480.3" r="5.4" fill="rgb(231,34,50)" fill-opacity="0.73"/>
<circle cx="534.0" cy="470.0" r="5.4" fill="rgb(231,34,50)" fill-opacity="0.73"/>
<circle cx="536.0" cy="440.0" r="5.4" fill="rgb(231,34,50)" fill-opacity="0.73"/>
<circle cx="540.0" cy="427.0" r="5.4" fill="rgb(231,34,50)" fill-opacity="0.73"/>
<circle cx="545.0" cy="425.0" r="5.4" fill="rgb(231,34,50)" fill-opacity="0.73"/>
<circle cx="591.4" cy="444.0" r="5.4" fill="rgb(56,88,166)" fill-opacity="0.86"/>
<circle cx="591.4" cy="468.1" r="5.4" fill="rgb(56,88,166)" fill-opacity="0.86"/>
<circle cx="592.9" cy="441.6" r="5.4" fill="rgb(56,88,166)" fill-opacity="0.86"/>
<circle cx="592.2" cy="450.8" r="5.4" fill="rgb(56,88,166)" fill-opacity="0.86"/>
<circle cx="599.4" cy="453.3" r="5.4" fill="rgb(56,88,166)" fill-opacity="0.86"/>
<circle cx="606.7" cy="470.9" r="5.4" fill="rgb(56,88,166)" fill-opacity="0.86"/>
<circle cx="609.6" cy="478.5" r="5.4" fill="rgb(56,88,166)" fill-opacity="0.86"/>
<circle cx="607.2" cy="471.3" r="5.4" fill="rgb(56,88,166)" fill-opacity="0.86"/>
<circle cx="614.5" cy="454.4" r="5.4" fill="rgb(56,88,166)" fill-opacity="0.86"/>
<circle cx="618.6" cy="465.7" r="5.4" fill="rgb(56,88,166)" fill-opacity="0.86"/>
<circle cx="611.0" cy="469.6" r="5.4" fill="rgb(56,88,166)" fill-opacity="0.86"/>
<circle cx="607.9" cy="445.2" r="5.4" fill="rgb(56,88,166)" fill-opacity="0.86"/>
<circle cx="592.9" cy="451.3" r="5.4" fill="rgb(56,88,166)" fill-opacity="0.86"/>
<circle cx="591.7" cy="434.5" r="5.4" fill="rgb(56,88,166)" fill-opacity="0.86"/>
<circle cx="604.9" cy="444.9" r="5.4" fill="rgb(56,88,166)" fill-opacity="0.86"/>
<circle cx="591.4" cy="446.1" r="5.4" fill="rgb(56,88,166)" fill-opacity="0.86"/>
<circle cx="606.7" cy="471.5" r="5.4" fill="rgb(56,88,166)" fill-opacity="0.86"/>
<circle cx="590.5" cy="432.5" r="5.4" fill="rgb(56,88,166)" fill-opacity="0.86"/>
<circle cx="593.6" cy="437.9" r="5.4" fill="rgb(56,88,166)" fill-opacity="0.86"/>
<circle cx="618.5" cy="476.6" r="5.4" fill="rgb(56,88,166)" fill-opacity="0.86"/>
<circle cx="596.9" cy="463.4" r="5.4" fill="rgb(56,88,166)" fill-opacity="0.86"/>
<circle cx="600.9" cy="453.7" r="5.4" fill="rgb(56,88,166)" fill-opacity="0.86"/>
<circle cx="590.3" cy="448.5" r="5.4" fill="rgb(56,88,166)" fill-opacity="0.86"/>
<circle cx="614.8" cy="462.0" r="5.4" fill="rgb(56,88,166)" fill-opacity="0.86"/>
<circle cx="592.9" cy="469.5" r="5.4" fill="rgb(56,88,166)" fill-opacity="0.86"/>
<circle cx="595.1" cy="459.1" r="5.4" fill="rgb(56,88,166)" fill-opacity="0.86"/>
<circle cx="603.4" cy="468.6" r="5.4" fill="rgb(56,88,166)" fill-opacity="0.86"/>
<circle cx="613.8" cy="480.7" r="5.4" fill="rgb(56,88,166)" fill-opacity="0.86"/>
<circle cx="593.2" cy="437.3" r="5.4" fill="rgb(56,88,166)" fill-opacity="0.86"/>
<circle cx="603.8" cy="479.5" r="5.4" fill="rgb(56,88,166)" fill-opacity="0.86"/>
<circle cx="603.2" cy="454.0" r="5.4" fill="rgb(56,88,166)" fill-opacity="0.86"/>
<circle cx="618.1" cy="471.7" r="5.4" fill="rgb(56,88,166)" fill-opacity="0.86"/>
<circle cx="619.1" cy="459.2" r="5.4" fill="rgb(56,88,166)" fill-opacity="0.86"/>
<circle cx="593.1" cy="462.6" r="5.4" fill="rgb(56,88,166)" fill-opacity="0.86"/>
<circle cx="602.6" cy="474.2" r="5.4" fill="rgb(56,88,166)" fill-opacity="0.86"/>
<circle cx="599.8" cy="433.8" r="5.4" fill="rgb(56,88,166)" fill-opacity="0.86"/>
<circle cx="595.8" cy="432.7" r="5.4" fill="rgb(56,88,166)" fill-opacity="0.86"/>
<circle cx="616.5" cy="456.5" r="5.4" fill="rgb(56,88,166)" fill-opacity="0.86"/>
<circle cx="594.7" cy="451.8" r="5.4" fill="rgb(56,88,166)" fill-opacity="0.86"/>
<circle cx="594.4" cy="445.7" r="5.4" fill="rgb(56,88,166)" fill-opacity="0.86"/>
<circle cx="600.7" cy="460.8" r="5.4" fill="rgb(56,88,166)" fill-opacity="0.86"/>
<circle cx="597.2" cy="470.8" r="5.4" fill="rgb(56,88,166)" fill-opacity="0.86"/>
<circle cx="595.5" cy="449.6" r="5.4" fill="rgb(56,88,166)" fill-opacity="0.86"/>
<circle cx="615.2" cy="483.1" r="5.4" fill="rgb(56,88,166)" fill-opacity="0.86"/>
<circle cx="608.5" cy="476.0" r="5.4" fill="rgb(56,88,166)" fill-opacity="0.86"/>
<circle cx="594.3" cy="452.2" r="5.4" fill="rgb(56,88,166)" fill-opacity="0.86"/>
<circle cx="604.7" cy="475.1" r="5.4" fill="rgb(56,88,166)" fill-opacity="0.86"/>
<circle cx="591.7" cy="433.0" r="5.4" fill="rgb(56,88,166)" fill-opacity="0.86"/>
<circle cx="597.2" cy="436.2" r="5.4" fill="rgb(56,88,166)" fill-opacity="0.86"/>
<circle cx="596.0" cy="478.7" r="5.4" fill="rgb(56,88,166)" fill-opacity="0.86"/>
<circle cx="599.7" cy="473.2" r="5.4" fill="rgb(56,88,166)" fill-opacity="0.86"/>
<circle cx="615.9" cy="467.2" r="5.4" fill="rgb(56,88,166)" fill-opacity="0.86"/>
<circle cx="614.0" cy="464.0" r="5.4" fill="rgb(56,88,166)" fill-opacity="0.86"/>
<circle cx="590.2" cy="451.0" r="5.4" fill="rgb(56,88,166)" fill-opacity="0.86"/>
<circle cx="607.6" cy="458.1" r="5.4" fill="rgb(56,88,166)" fill-opacity="0.86"/>
<circle cx="593.9" cy="440.8" r="5.4" fill="rgb(56,88,166)" fill-opacity="0.86"/>
<circle cx="590.6" cy="447.8" r="5.4" fill="rgb(56,88,166)" fill-opacity="0.86"/>
<circle cx="598.4" cy="447.5" r="5.4" fill="rgb(56,88,166)" fill-opacity="0.86"/>
<circle cx="611.1" cy="456.2" r="5.4" fill="rgb(56,88,166)" fill-opacity="0.86"/>
<circle cx="619.5" cy="452.2" r="5.4" fill="rgb(56,88,166)" fill-opacity="0.86"/>
<circle cx="617.7" cy="474.2" r="5.4" fill="rgb(56,88,166)" fill-opacity="0.86"/>
<circle cx="610.1" cy="467.7" r="5.4" fill="rgb(56,88,166)" fill-opacity="0.86"/>
<circle cx="614.0" cy="459.4" r="5.4" fill="rgb(56,88,166)" fill-opacity="0.86"/>
<circle cx="603.1" cy="450.2" r="5.4" fill="rgb(56,88,166)" fill-opacity="0.86"/>
<circle cx="605.7" cy="467.0" r="5.4" fill="rgb(56,88,166)" fill-opacity="0.86"/>
<circle cx="591.7" cy="446.1" r="5.4" fill="rgb(56,88,166)" fill-opacity="0.86"/>
<circle cx="593.6" cy="435.6" r="5.4" fill="rgb(56,88,166)" fill-opacity="0.86"/>
<circle cx="612.8" cy="461.8" r="5.4" fill="rgb(56,88,166)" fill-opacity="0.86"/>
<circle cx="599.2" cy="468.9" r="5.4" fill="rgb(56,88,166)" fill-opacity="0.86"/>
<circle cx="598.2" cy="480.2" r="5.4" fill="rgb(56,88,166)" fill-opacity="0.86"/>
<circle cx="592.2" cy="469.0" r="5.4" fill="rgb(56,88,166)" fill-opacity="0.86"/>
<circle cx="610.1" cy="470.9" r="5.4" fill="rgb(56,88,166)" fill-opacity="0.86"/>
<circle cx="616.9" cy="481.7" r="5.4" fill="rgb(56,88,166)" fill-opacity="0.86"/>
<circle cx="615.1" cy="467.4" r="5.4" fill="rgb(56,88,166)" fill-opacity="0.86"/>
<circle cx="608.3" cy="470.1" r="5.4" fill="rgb(56,88,166)" fill-opacity="0.86"/>
<circle cx="601.4" cy="442.1" r="5.4" fill="rgb(56,88,166)" fill-opacity="0.86"/>
<circle cx="597.2" cy="478.5" r="5.4" fill="rgb(56,88,166)" fill-opacity="0.86"/>
<circle cx="606.3" cy="482.7" r="5.4" fill="rgb(56,88,166)" fill-opacity="0.86"/>
<circle cx="590.1" cy="451.9" r="5.4" fill="rgb(56,88,166)" fill-opacity="0.86"/>
<circle cx="593.9" cy="451.7" r="5.4" fill="rgb(56,88,166)" fill-opacity="0.86"/>
<circle cx="617.0" cy="465.6" r="5.4" fill="rgb(56,88,166)" fill-opacity="0.86"/>
<circle cx="608.4" cy="479.2" r="5.4" fill="rgb(56,88,166)" fill-opacity="0.86"/>
<circle cx="592.4" cy="451.5" r="5.4" fill="rgb(56,88,166)" fill-opacity="0.86"/>
<circle cx="606.6" cy="467.5" r="5.4" fill="rgb(56,88,166)" fill-opacity="0.86"/>
<circle cx="601.2" cy="468.9" r="5.4" fill="rgb(56,88,166)" fill-opacity="0.86"/>
<circle cx="596.4" cy="478.0" r="5.4" fill="rgb(56,88,166)" fill-opacity="0.86"/>
<circle cx="595.9" cy="447.2" r="5.4" fill="rgb(56,88,166)" fill-opacity="0.86"/>
<circle cx="616.9" cy="464.0" r="5.4" fill="rgb(56,88,166)" fill-opacity="0.86"/>
<circle cx="596.3" cy="439.9" r="5.4" fill="rgb(56,88,166)" fill-opacity="0.86"/>
<circle cx="596.7" cy="471.6" r="5.4" fill="rgb(56,88,166)" fill-opacity="0.86"/>
<circle cx="595.7" cy="434.3" r="5.4" fill="rgb(56,88,166)" fill-opacity="0.86"/>
<circle cx="616.4" cy="475.0" r="5.4" fill="rgb(56,88,166)" fill-opacity="0.86"/>
<circle cx="602.5" cy="469.6" r="5.4" fill="rgb(56,88,166)" fill-opacity="0.86"/>
<circle cx="605.9" cy="453.5" r="5.4" fill="rgb(56,88,166)" fill-opacity="0.86"/>
<circle cx="599.1" cy="479.0" r="5.4" fill="rgb(56,88,166)" fill-opacity="0.86"/>
<circle cx="603.3" cy="445.9" r="5.4" fill="rgb(56,88,166)" fill-opacity="0.86"/>
<circle cx="595.6" cy="482.2" r="5.4" fill="rgb(56,88,166)" fill-opacity="0.86"/>
<circle cx="591.2" cy="432.6" r="5.4" fill="rgb(56,88,166)" fill-opacity="0.86"/>
<circle cx="608.1" cy="460.8" r="5.4" fill="rgb(56,88,166)" fill-opacity="0.86"/>
<circle cx="591.9" cy="440.7" r="5.4" fill="rgb(56,88,166)" fill-opacity="0.86"/>
<circle cx="609.4" cy="462.5" r="5.4" fill="rgb(56,88,166)" fill-opacity="0.86"/>
<circle cx="611.9" cy="467.6" r="5.4" fill="rgb(56,88,166)" fill-opacity="0.86"/>
<circle cx="594.8" cy="434.3" r="5.4" fill="rgb(56,88,166)" fill-opacity="0.86"/>
<circle cx="618.7" cy="475.2" r="5.4" fill="rgb(56,88,166)" fill-opacity="0.86"/>
<circle cx="608.7" cy="447.9" r="5.4" fill="rgb(56,88,166)" fill-opacity="0.86"/>
<circle cx="617.8" cy="465.2" r="5.4" fill="rgb(56,88,166)" fill-opacity="0.86"/>
<circle cx="605.3" cy="443.1" r="5.4" fill="rgb(56,88,166)" fill-opacity="0.86"/>
<circle cx="604.3" cy="475.6" r="5.4" fill="rgb(56,88,166)" fill-opacity="0.86"/>
<circle cx="591.9" cy="436.3" r="5.4" fill="rgb(56,88,166)" fill-opacity="0.86"/>
<circle cx="590.9" cy="439.3" r="5.4" fill="rgb(56,88,166)" fill-opacity="0.86"/>
<circle cx="596.2" cy="439.1" r="5.4" fill="rgb(56,88,166)" fill-opacity="0.86"/>
<circle cx="597.6" cy="436.6" r="5.4" fill="rgb(56,88,166)" fill-opacity="0.86"/>
<circle cx="614.5" cy="470.0" r="5.4" fill="rgb(56,88,166)" fill-opacity="0.86"/>
<circle cx="611.4" cy="473.6" r="5.4" fill="rgb(56,88,166)" fill-opacity="0.86"/>
<circle cx="618.7" cy="480.0" r="5.4" fill="rgb(56,88,166)" fill-opacity="0.86"/>
<circle cx="619.0" cy="464.1" r="5.4" fill="rgb(56,88,166)" fill-opacity="0.86"/>
<circle cx="591.0" cy="436.5" r="5.4" fill="rgb(56,88,166)" fill-opacity="0.86"/>
<circle cx="592.1" cy="434.4" r="5.4" fill="rgb(56,88,166)" fill-opacity="0.86"/>
<circle cx="600.1" cy="450.8" r="5.4" fill="rgb(56,88,166)" fill-opacity="0.86"/>
<circle cx="612.3" cy="467.1" r="5.4" fill="rgb(56,88,166)" fill-opacity="0.86"/>
<circle cx="594.0" cy="435.4" r="5.4" fill="rgb(56,88,166)" fill-opacity="0.86"/>
<circle cx="601.3" cy="459.8" r="5.4" fill="rgb(56,88,166)" fill-opacity="0.86"/>
<circle cx="596.0" cy="437.2" r="5.4" fill="rgb(56,88,166)" fill-opacity="0.86"/>
<circle cx="605.0" cy="450.8" r="5.4" fill="rgb(56,88,166)" fill-opacity="0.86"/>
<circle cx="618.9" cy="457.3" r="5.4" fill="rgb(56,88,166)" fill-opacity="0.86"/>
<circle cx="592.2" cy="481.1" r="5.4" fill="rgb(56,88,166)" fill-opacity="0.86"/>
<circle cx="611.6" cy="471.3" r="5.4" fill="rgb(56,88,166)" fill-opacity="0.86"/>
<circle cx="592.6" cy="446.7" r="5.4" fill="rgb(56,88,166)" fill-opacity="0.86"/>
<circle cx="600.6" cy="456.4" r="5.4" fill="rgb(56,88,166)" fill-opacity="0.86"/>
<circle cx="617.6" cy="470.1" r="5.4" fill="rgb(56,88,166)" fill-opacity="0.86"/>
<circle cx="596.4" cy="451.3" r="5.4" fill="rgb(56,88,166)" fill-opacity="0.86"/>
<circle cx="610.9" cy="457.4" r="5.4" fill="rgb(56,88,166)" fill-opacity="0.86"/>
<circle cx="607.3" cy="472.8" r="5.4" fill="rgb(56,88,166)" fill-opacity="0.86"/>
<circle cx="597.4" cy="446.7" r="5.4" fill="rgb(56,88,166)" fill-opacity="0.86"/>
<circle cx="605.6" cy="475.9" r="5.4" fill="rgb(56,88,166)" fill-opacity="0.86"/>
<circle cx="594.2" cy="433.7" r="5.4" fill="rgb(56,88,166)" fill-opacity="0.86"/>
<circle cx="604.7" cy="443.6" r="5.4" fill="rgb(56,88,166)" fill-opacity="0.86"/>
<circle cx="592.7" cy="434.9" r="5.4" fill="rgb(56,88,166)" fill-opacity="0.86"/>
<circle cx="594.8" cy="436.1" r="5.4" fill="rgb(56,88,166)" fill-opacity="0.86"/>
<circle cx="606.2" cy="483.2" r="5.4" fill="rgb(56,88,166)" fill-opacity="0.86"/>
<circle cx="610.5" cy="451.5" r="5.4" fill="rgb(56,88,166)" fill-opacity="0.86"/>
<circle cx="593.6" cy="435.9" r="5.4" fill="rgb(56,88,166)" fill-opacity="0.86"/>
<circle cx="590.2" cy="474.0" r="5.4" fill="rgb(56,88,166)" fill-opacity="0.86"/>
<circle cx="600.8" cy="471.6" r="5.4" fill="rgb(56,88,166)" fill-opacity="0.86"/>
<circle cx="592.5" cy="431.9" r="5.4" fill="rgb(56,88,166)" fill-opacity="0.86"/>
<circle cx="601.5" cy="455.3" r="5.4" fill="rgb(56,88,166)" fill-opacity="0.86"/>
<circle cx="591.6" cy="458.4" r="5.4" fill="rgb(56,88,166)" fill-opacity="0.86"/>
<circle cx="611.4" cy="442.6" r="5.4" fill="rgb(56,88,166)" fill-opacity="0.86"/>
<circle cx="604.2" cy="454.5" r="5.4" fill="rgb(56,88,166)" fill-opacity="0.86"/>
<circle cx="592.8" cy="435.5" r="5.4" fill="rgb(56,88,166)" fill-opacity="0.86"/>
<circle cx="610.6" cy="481.6" r="5.4" fill="rgb(56,88,166)" fill-opacity="0.86"/>
<circle cx="591.6" cy="457.9" r="5.4" fill="rgb(56,88,166)" fill-opacity="0.86"/>
<circle cx="607.1" cy="451.8" r="5.4" fill="rgb(56,88,166)" fill-opacity="0.86"/>
<circle cx="607.8" cy="454.0" r="5.4" fill="rgb(56,88,166)" fill-opacity="0.86"/>
<circle cx="609.4" cy="478.8" r="5.4" fill="rgb(56,88,166)" fill-opacity="0.86"/>
<circle cx="591.1" cy="464.7" r="5.4" fill="rgb(56,88,166)" fill-opacity="0.86"/>
<circle cx="597.7" cy="432.3" r="5.4" fill="rgb(56,88,166)" fill-opacity="0.86"/>
<circle cx="616.2" cy="452.9" r="5.4" fill="rgb(56,88,166)" fill-opacity="0.86"/>
<circle cx="617.5" cy="474.8" r="5.4" fill="rgb(56,88,166)" fill-opacity="0.86"/>
<circle cx="612.0" cy="451.1" r="5.4" fill="rgb(56,88,166)" fill-opacity="0.86"/>
<circle cx="616.8" cy="471.1" r="5.4" fill="rgb(56,88,166)" fill-opacity="0.86"/>
<circle cx="597.8" cy="438.9" r="5.4" fill="rgb(56,88,166)" fill-opacity="0.86"/>
<circle cx="619.2" cy="453.4" r="5.4" fill="rgb(56,88,166)" fill-opacity="0.86"/>
<circle cx="596.5" cy="483.7" r="5.4" fill="rgb(56,88,166)" fill-opacity="0.86"/>
<circle cx="598.1" cy="453.3" r="5.4" fill="rgb(56,88,166)" fill-opacity="0.86"/>
<circle cx="598.6" cy="455.9" r="5.4" fill="rgb(56,88,166)" fill-opacity="0.86"/>
<circle cx="593.7" cy="466.3" r="5.4" fill="rgb(56,88,166)" fill-opacity="0.86"/>
<circle cx="594.6" cy="440.0" r="5.4" fill="rgb(56,88,166)" fill-opacity="0.86"/>
<circle cx="593.8" cy="434.9" r="5.4" fill="rgb(56,88,166)" fill-opacity="0.86"/>
<circle cx="616.6" cy="478.6" r="5.4" fill="rgb(56,88,166)" fill-opacity="0.86"/>
<circle cx="590.2" cy="441.4" r="5.4" fill="rgb(56,88,166)" fill-opacity="0.86"/>
<circle cx="618.8" cy="474.9" r="5.4" fill="rgb(56,88,166)" fill-opacity="0.86"/>
<circle cx="594.1" cy="462.7" r="5.4" fill="rgb(56,88,166)" fill-opacity="0.86"/>
<circle cx="610.2" cy="443.5" r="5.4" fill="rgb(56,88,166)" fill-opacity="0.86"/>
<circle cx="590.9" cy="480.7" r="5.4" fill="rgb(56,88,166)" fill-opacity="0.86"/>
<circle cx="594.3" cy="440.8" r="5.4" fill="rgb(56,88,166)" fill-opacity="0.86"/>
<circle cx="606.6" cy="445.1" r="5.4" fill="rgb(56,88,166)" fill-opacity="0.86"/>
<circle cx="607.1" cy="450.8" r="5.4" fill="rgb(56,88,166)" fill-opacity="0.86"/>
<circle cx="595.2" cy="439.1" r="5.4" fill="rgb(56,88,166)" fill-opacity="0.86"/>
<circle cx="611.1" cy="482.7" r="5.4" fill="rgb(56,88,166)" fill-opacity="0.86"/>
<circle cx="591.1" cy="435.8" r="5.4" fill="rgb(56,88,166)" fill-opacity="0.86"/>
<circle cx="601.2" cy="465.1" r="5.4" fill="rgb(56,88,166)" fill-opacity="0.86"/>
<circle cx="600.5" cy="450.5" r="5.4" fill="rgb(56,88,166)" fill-opacity="0.86"/>
<circle cx="619.0" cy="461.8" r="5.4" fill="rgb(56,88,166)" fill-opacity="0.86"/>
<circle cx="602.5" cy="443.8" r="5.4" fill="rgb(56,88,166)" fill-opacity="0.86"/>
<circle cx="602.0" cy="444.9" r="5.4" fill="rgb(56,88,166)" fill-opacity="0.86"/>
<circle cx="594.0" cy="469.8" r="5.4" fill="rgb(56,88,166)" fill-opacity="0.86"/>
<circle cx="611.2" cy="456.5" r="5.4" fill="rgb(56,88,166)" fill-opacity="0.86"/>
<circle cx="597.7" cy="431.4" r="5.4" fill="rgb(56,88,166)" fill-opacity="0.86"/>
<circle cx="605.1" cy="453.2" r="5.4" fill="rgb(56,88,166)" fill-opacity="0.86"/>
<circle cx="613.8" cy="463.4" r="5.4" fill="rgb(56,88,166)" fill-opacity="0.86"/>
<circle cx="595.0" cy="434.0" r="5.4" fill="rgb(56,88,166)" fill-opacity="0.86"/>
<circle cx="593.9" cy="433.0" r="5.4" fill="rgb(56,88,166)" fill-opacity="0.86"/>
<circle cx="590.5" cy="449.3" r="5.4" fill="rgb(56,88,166)" fill-opacity="0.86"/>
<circle cx="599.9" cy="446.8" r="5.4" fill="rgb(56,88,166)" fill-opacity="0.86"/>
<circle cx="617.7" cy="465.7" r="5.4" fill="rgb(56,88,166)" fill-opacity="0.86"/>
<circle cx="601.7" cy="450.6" r="5.4" fill="rgb(56,88,166)" fill-opacity="0.86"/>
<circle cx="618.1" cy="468.8" r="5.4" fill="rgb(56,88,166)" fill-opacity="0.86"/>
<circle cx="619.6" cy="481.3" r="5.4" fill="rgb(56,88,166)" fill-opacity="0.86"/>
<circle cx="593.7" cy="447.0" r="5.4" fill="rgb(56,88,166)" fill-opacity="0.86"/>
<circle cx="592.3" cy="480.4" r="5.4" fill="rgb(56,88,166)" fill-opacity="0.86"/>
<circle cx="612.1" cy="454.8" r="5.4" fill="rgb(56,88,166)" fill-opacity="0.86"/>
<circle cx="601.7" cy="459.0" r="5.4" fill="rgb(56,88,166)" fill-opacity="0.86"/>
<circle cx="599.0" cy="480.0" r="5.4" fill="rgb(56,88,166)" fill-opacity="0.86"/>
<circle cx="614.9" cy="460.2" r="5.4" fill="rgb(56,88,166)" fill-opacity="0.86"/>
<circle cx="593.5" cy="438.3" r="5.4" fill="rgb(56,88,166)" fill-opacity="0.86"/>
<circle cx="607.0" cy="457.2" r="5.4" fill="rgb(56,88,166)" fill-opacity="0.86"/>
<circle cx="594.5" cy="442.0" r="5.4" fill="rgb(56,88,166)" fill-opacity="0.86"/>
<circle cx="590.9" cy="434.2" r="5.4" fill="rgb(56,88,166)" fill-opacity="0.86"/>
<circle cx="593.2" cy="449.1" r="5.4" fill="rgb(56,88,166)" fill-opacity="0.86"/>
<circle cx="597.9" cy="482.3" r="5.4" fill="rgb(56,88,166)" fill-opacity="0.86"/>
<circle cx="607.2" cy="445.6" r="5.4" fill="rgb(56,88,166)" fill-opacity="0.86"/>
<circle cx="597.9" cy="470.3" r="5.4" fill="rgb(56,88,166)" fill-opacity="0.86"/>
<circle cx="608.8" cy="474.9" r="5.4" fill="rgb(56,88,166)" fill-opacity="0.86"/>
<circle cx="603.8" cy="451.6" r="5.4" fill="rgb(56,88,166)" fill-opacity="0.86"/>
<circle cx="595.8" cy="444.0" r="5.4" fill="rgb(56,88,166)" fill-opacity="0.86"/>
<circle cx="603.2" cy="477.5" r="5.4" fill="rgb(56,88,166)" fill-opacity="0.86"/>
<circle cx="595.3" cy="478.6" r="5.4" fill="rgb(56,88,166)" fill-opacity="0.86"/>
<circle cx="590.5" cy="438.3" r="5.4" fill="rgb(56,88,166)" fill-opacity="0.86"/>
<circle cx="606.8" cy="470.2" r="5.4" fill="rgb(56,88,166)" fill-opacity="0.86"/>
<circle cx="590.4" cy="431.5" r="5.4" fill="rgb(56,88,166)" fill-opacity="0.86"/>
<circle cx="604.8" cy="474.7" r="5.4" fill="rgb(56,88,166)" fill-opacity="0.86"/>
<circle cx="591.2" cy="477.2" r="5.4" fill="rgb(56,88,166)" fill-opacity="0.86"/>
<circle cx="593.5" cy="462.2" r="5.4" fill="rgb(56,88,166)" fill-opacity="0.86"/>
<circle cx="608.3" cy="469.2" r="5.4" fill="rgb(56,88,166)" fill-opacity="0.86"/>
<circle cx="596.6" cy="463.4" r="5.4" fill="rgb(56,88,166)" fill-opacity="0.86"/>
<circle cx="593.3" cy="481.3" r="5.4" fill="rgb(56,88,166)" fill-opacity="0.86"/>
<circle cx="596.8" cy="434.4" r="5.4" fill="rgb(56,88,166)" fill-opacity="0.86"/>
<circle cx="590.7" cy="435.9" r="5.4" fill="rgb(56,88,166)" fill-opacity="0.86"/>
<circle cx="609.5" cy="455.4" r="5.4" fill="rgb(56,88,166)" fill-opacity="0.86"/>
<circle cx="636.3" cy="309.2" r="5.4" fill="rgb(56,88,166)" fill-opacity="0.86"/>
<circle cx="632.4" cy="318.2" r="5.4" fill="rgb(56,88,166)" fill-opacity="0.86"/>
<circle cx="645.6" cy="339.6" r="5.4" fill="rgb(56,88,166)" fill-opacity="0.86"/>
<circle cx="628.8" cy="354.3" r="5.4" fill="rgb(56,88,166)" fill-opacity="0.86"/>
<circle cx="633.7" cy="359.5" r="5.4" fill="rgb(56,88,166)" fill-opacity="0.86"/>
<circle cx="609.5" cy="371.1" r="5.4" fill="rgb(56,88,166)" fill-opacity="0.86"/>
<circle cx="594.5" cy="381.9" r="5.4" fill="rgb(56,88,166)" fill-opacity="0.86"/>
<circle cx="590.1" cy="386.5" r="5.4" fill="rgb(56,88,166)" fill-opacity="0.86"/>
<circle cx="604.3" cy="386.5" r="5.4" fill="rgb(56,88,166)" fill-opacity="0.86"/>
<circle cx="624.9" cy="384.0" r="5.4" fill="rgb(56,88,166)" fill-opacity="0.86"/>
<circle cx="599.2" cy="398.0" r="5.4" fill="rgb(56,88,166)" fill-opacity="0.86"/>
<circle cx="590.0" cy="403.0" r="5.4" fill="rgb(56,88,166)" fill-opacity="0.86"/>
<circle cx="618.1" cy="395.1" r="5.4" fill="rgb(56,88,166)" fill-opacity="0.86"/>
<circle cx="621.2" cy="397.5" r="5.4" fill="rgb(56,88,166)" fill-opacity="0.86"/>
<circle cx="634.6" cy="400.6" r="5.4" fill="rgb(56,88,166)" fill-opacity="0.86"/>
<circle cx="640.9" cy="409.3" r="5.4" fill="rgb(56,88,166)" fill-opacity="0.86"/>
<circle cx="636.9" cy="411.7" r="5.4" fill="rgb(56,88,166)" fill-opacity="0.86"/>
<circle cx="614.9" cy="407.7" r="5.4" fill="rgb(56,88,166)" fill-opacity="0.86"/>
<circle cx="625.2" cy="403.8" r="5.4" fill="rgb(56,88,166)" fill-opacity="0.86"/>
<circle cx="629.1" cy="412.4" r="5.4" fill="rgb(56,88,166)" fill-opacity="0.86"/>
<circle cx="625.2" cy="420.3" r="5.4" fill="rgb(56,88,166)" fill-opacity="0.86"/>
<circle cx="617.3" cy="415.6" r="5.4" fill="rgb(56,88,166)" fill-opacity="0.86"/>
<circle cx="600.0" cy="408.5" r="5.4" fill="rgb(56,88,166)" fill-opacity="0.86"/>
<circle cx="603.1" cy="412.4" r="5.4" fill="rgb(56,88,166)" fill-opacity="0.86"/>
<circle cx="596.1" cy="420.3" r="5.4" fill="rgb(56,88,166)" fill-opacity="0.86"/>
<circle cx="607.9" cy="417.2" r="5.4" fill="rgb(56,88,166)" fill-opacity="0.86"/>
<circle cx="611.0" cy="421.9" r="5.4" fill="rgb(56,88,166)" fill-opacity="0.86"/>
<circle cx="618.1" cy="430.5" r="5.4" fill="rgb(56,88,166)" fill-opacity="0.86"/>
<circle cx="635.4" cy="432.1" r="5.4" fill="rgb(56,88,166)" fill-opacity="0.86"/>
<circle cx="632.2" cy="436.0" r="5.4" fill="rgb(56,88,166)" fill-opacity="0.86"/>
<circle cx="614.1" cy="438.4" r="5.4" fill="rgb(56,88,166)" fill-opacity="0.86"/>
<circle cx="623.6" cy="443.1" r="5.4" fill="rgb(56,88,166)" fill-opacity="0.86"/>
<circle cx="627.5" cy="454.1" r="5.4" fill="rgb(56,88,166)" fill-opacity="0.86"/>
<circle cx="632.2" cy="461.9" r="5.4" fill="rgb(56,88,166)" fill-opacity="0.86"/>
<circle cx="629.1" cy="468.2" r="5.4" fill="rgb(56,88,166)" fill-opacity="0.86"/>
<circle cx="630.7" cy="482.4" r="5.4" fill="rgb(56,88,166)" fill-opacity="0.86"/>
<circle cx="591.0" cy="420.0" r="5.4" fill="rgb(56,88,166)" fill-opacity="0.86"/>
<circle cx="590.0" cy="428.0" r="5.4" fill="rgb(56,88,166)" fill-opacity="0.86"/>
<circle cx="605.0" cy="428.0" r="5.4" fill="rgb(56,88,166)" fill-opacity="0.86"/>
</g>
<line x1="571.35" y1="309.00" x2="571.35" y2="492.40" stroke="#000" stroke-width="2.1" stroke-dasharray="7.2 7.4"/>
<line x1="589.45" y1="309.00" x2="589.45" y2="492.40" stroke="#000" stroke-width="2.1" stroke-dasharray="7.2 7.4"/>
<g>
</g>
<polyline points="481.2,300.8 481.2,492.4 678.7,492.4" fill="none" stroke="#2a2a2a" stroke-width="1.5" stroke-linejoin="round"/>
<line x1="478.60" y1="461.90" x2="481.20" y2="461.90" stroke="#333" stroke-width="1.1" />
<text x="476.4" y="466.9" font-size="14.0" text-anchor="end" fill="#4d4d4d" font-weight="normal" >2</text>
<line x1="478.60" y1="429.48" x2="481.20" y2="429.48" stroke="#333" stroke-width="1.1" />
<text x="476.4" y="434.5" font-size="14.0" text-anchor="end" fill="#4d4d4d" font-weight="normal" >3</text>
<line x1="478.60" y1="397.06" x2="481.20" y2="397.06" stroke="#333" stroke-width="1.1" />
<text x="476.4" y="402.1" font-size="14.0" text-anchor="end" fill="#4d4d4d" font-weight="normal" >4</text>
<line x1="478.60" y1="364.64" x2="481.20" y2="364.64" stroke="#333" stroke-width="1.1" />
<text x="476.4" y="369.6" font-size="14.0" text-anchor="end" fill="#4d4d4d" font-weight="normal" >5</text>
<line x1="478.60" y1="332.22" x2="481.20" y2="332.22" stroke="#333" stroke-width="1.1" />
<text x="476.4" y="337.2" font-size="14.0" text-anchor="end" fill="#4d4d4d" font-weight="normal" >6</text>
<line x1="489.90" y1="492.40" x2="489.90" y2="495.00" stroke="#333" stroke-width="1.1" />
<text x="487.9" y="506.6" font-size="12.5" text-anchor="middle" fill="#4d4d4d" font-weight="normal" >−1.0</text>
<line x1="535.15" y1="492.40" x2="535.15" y2="495.00" stroke="#333" stroke-width="1.1" />
<text x="533.1" y="506.6" font-size="12.5" text-anchor="middle" fill="#4d4d4d" font-weight="normal" >−0.5</text>
<line x1="580.40" y1="492.40" x2="580.40" y2="495.00" stroke="#333" stroke-width="1.1" />
<text x="580.4" y="506.6" font-size="12.5" text-anchor="middle" fill="#4d4d4d" font-weight="normal" >0.0</text>
<line x1="625.65" y1="492.40" x2="625.65" y2="495.00" stroke="#333" stroke-width="1.1" />
<text x="625.6" y="506.6" font-size="12.5" text-anchor="middle" fill="#4d4d4d" font-weight="normal" >0.5</text>
<line x1="670.90" y1="492.40" x2="670.90" y2="495.00" stroke="#333" stroke-width="1.1" />
<text x="670.9" y="506.6" font-size="12.5" text-anchor="middle" fill="#4d4d4d" font-weight="normal" >1.0</text>
<text x="581.8" y="522.9" font-size="11.6" text-anchor="middle" fill="#1a1a1a" font-weight="normal" >ΔPSI(Snord67KO - D3H2)</text>
<text x="0" y="0" font-size="13.4" fill="#1a1a1a" text-anchor="middle" transform="translate(461.8,397.8) rotate(-90)">−log<tspan font-size="9.5" dy="3">10</tspan><tspan dy="-3">(FDR)</tspan></text>
<polyline points="177.4,533.0 177.4,767.7 360.5,767.7" fill="none" stroke="#111" stroke-width="1.6" stroke-linejoin="round"/>
<line x1="174.20" y1="547.20" x2="177.40" y2="547.20" stroke="#333" stroke-width="1.1" />
<text x="171.8" y="551.1" font-size="11.7" text-anchor="end" fill="#4d4d4d" font-weight="normal" >spindle</text>
<circle cx="352.3" cy="547.2" r="5.1" fill="#2777b8" stroke="#1a1a1a" stroke-width="0.8"/>
<line x1="174.20" y1="570.20" x2="177.40" y2="570.20" stroke="#333" stroke-width="1.1" />
<text x="171.8" y="574.1" font-size="11.7" text-anchor="end" fill="#4d4d4d" font-weight="normal" >vacuolar membrane</text>
<circle cx="352.3" cy="570.2" r="5.1" fill="#2777b8" stroke="#1a1a1a" stroke-width="0.8"/>
<line x1="174.20" y1="593.20" x2="177.40" y2="593.20" stroke="#333" stroke-width="1.1" />
<text x="171.8" y="597.1" font-size="11.7" text-anchor="end" fill="#4d4d4d" font-weight="normal" >basal part of cell</text>
<circle cx="302.9" cy="593.2" r="4.7" fill="#2777b8" stroke="#1a1a1a" stroke-width="0.8"/>
<line x1="174.20" y1="616.00" x2="177.40" y2="616.00" stroke="#333" stroke-width="1.1" />
<text x="171.8" y="619.9" font-size="11.7" text-anchor="end" fill="#4d4d4d" font-weight="normal" >basolateral plasma membrane</text>
<circle cx="285.7" cy="616.0" r="4.5" fill="#2777b8" stroke="#1a1a1a" stroke-width="0.8"/>
<line x1="174.20" y1="639.00" x2="177.40" y2="639.00" stroke="#333" stroke-width="1.1" />
<text x="171.8" y="642.9" font-size="11.7" text-anchor="end" fill="#4d4d4d" font-weight="normal" >synaptic vesicle</text>
<circle cx="269.0" cy="639.0" r="4.5" fill="#2777b8" stroke="#1a1a1a" stroke-width="0.8"/>
<line x1="174.20" y1="662.20" x2="177.40" y2="662.20" stroke="#333" stroke-width="1.1" />
<text x="171.8" y="666.1" font-size="11.7" text-anchor="end" fill="#4d4d4d" font-weight="normal" >cell division site</text>
<circle cx="211.0" cy="662.2" r="3.5" fill="#2777b8" stroke="#1a1a1a" stroke-width="0.8"/>
<line x1="174.20" y1="685.30" x2="177.40" y2="685.30" stroke="#333" stroke-width="1.1" />
<text x="171.8" y="689.2" font-size="11.7" text-anchor="end" fill="#4d4d4d" font-weight="normal" >cleavage furrow</text>
<circle cx="202.8" cy="685.3" r="3.05" fill="#2777b8" stroke="#1a1a1a" stroke-width="0.8"/>
<line x1="174.20" y1="708.40" x2="177.40" y2="708.40" stroke="#333" stroke-width="1.1" />
<text x="171.8" y="712.3" font-size="11.7" text-anchor="end" fill="#4d4d4d" font-weight="normal" >DNA repair complex</text>
<circle cx="194.7" cy="708.4" r="2.9" fill="#d35a5e" stroke="#1a1a1a" stroke-width="0.8"/>
<line x1="174.20" y1="731.30" x2="177.40" y2="731.30" stroke="#333" stroke-width="1.1" />
<text x="171.8" y="735.2" font-size="11.7" text-anchor="end" fill="#4d4d4d" font-weight="normal" >mitotic spindle pole</text>
<circle cx="194.7" cy="731.3" r="2.9" fill="#2777b8" stroke="#1a1a1a" stroke-width="0.8"/>
<line x1="174.20" y1="754.30" x2="177.40" y2="754.30" stroke="#333" stroke-width="1.1" />
<text x="171.8" y="758.2" font-size="11.7" text-anchor="end" fill="#4d4d4d" font-weight="normal" >Ino80 complex</text>
<circle cx="186.1" cy="754.3" r="2.3" fill="#2777b8" stroke="#1a1a1a" stroke-width="0.8"/>
<line x1="199.20" y1="767.70" x2="199.20" y2="771.50" stroke="#333" stroke-width="1.2" />
<text x="199.2" y="782.3" font-size="10.3" text-anchor="middle" fill="#4d4d4d" font-weight="normal" >0.01</text>
<line x1="244.50" y1="767.70" x2="244.50" y2="771.50" stroke="#333" stroke-width="1.2" />
<text x="244.5" y="782.3" font-size="10.3" text-anchor="middle" fill="#4d4d4d" font-weight="normal" >0.02</text>
<line x1="289.80" y1="767.70" x2="289.80" y2="771.50" stroke="#333" stroke-width="1.2" />
<text x="289.8" y="782.3" font-size="10.3" text-anchor="middle" fill="#4d4d4d" font-weight="normal" >0.03</text>
<line x1="335.10" y1="767.70" x2="335.10" y2="771.50" stroke="#333" stroke-width="1.2" />
<text x="335.1" y="782.3" font-size="10.3" text-anchor="middle" fill="#4d4d4d" font-weight="normal" >0.04</text>
<text x="275.8" y="794.6" font-size="10.0" text-anchor="middle" fill="#1a1a1a" font-weight="normal" >GeneRatio</text>
<text x="370.0" y="608.6" font-size="10.1" text-anchor="start" fill="#1a1a1a" font-weight="normal" >p.adjust</text>
<rect x="370.0" y="613.7" width="6.6" height="33.6" fill="url(#gE)"/>
<line x1="370.00" y1="621.70" x2="371.40" y2="621.70" stroke="#fff" stroke-width="0.6" />
<line x1="375.20" y1="621.70" x2="376.60" y2="621.70" stroke="#fff" stroke-width="0.6" />
<text x="379.9" y="625.1" font-size="10.1" text-anchor="start" fill="#1a1a1a" font-weight="normal" >0.145</text>
<line x1="370.00" y1="634.50" x2="371.40" y2="634.50" stroke="#fff" stroke-width="0.6" />
<line x1="375.20" y1="634.50" x2="376.60" y2="634.50" stroke="#fff" stroke-width="0.6" />
<text x="379.9" y="637.9" font-size="10.1" text-anchor="start" fill="#1a1a1a" font-weight="normal" >0.150</text>
<text x="370.0" y="659.8" font-size="10.1" text-anchor="start" fill="#1a1a1a" font-weight="normal" >Count</text>
<circle cx="373.6" cy="668.0" r="2.2" fill="none" stroke="#1a1a1a" stroke-width="0.9"/>
<text x="384.7" y="671.4" font-size="10.1" text-anchor="start" fill="#1a1a1a" font-weight="normal" >5</text>
<circle cx="373.6" cy="678.3" r="3.4" fill="none" stroke="#1a1a1a" stroke-width="0.9"/>
<text x="382.4" y="681.7" font-size="10.1" text-anchor="start" fill="#1a1a1a" font-weight="normal" >10</text>
<circle cx="373.6" cy="689.2" r="4.2" fill="none" stroke="#1a1a1a" stroke-width="0.9"/>
<text x="382.4" y="692.6" font-size="10.1" text-anchor="start" fill="#1a1a1a" font-weight="normal" >15</text>
<circle cx="373.6" cy="700.9" r="5.0" fill="none" stroke="#1a1a1a" stroke-width="0.9"/>
<text x="382.4" y="704.3" font-size="10.1" text-anchor="start" fill="#1a1a1a" font-weight="normal" >20</text>
<defs>
<linearGradient id="gP" x1="0" y1="0" x2="0" y2="1">
<stop offset="0" stop-color="#8e1a84"/><stop offset="0.1" stop-color="#a8409c"/><stop offset="0.24" stop-color="#f4e6f2"/><stop offset="0.34" stop-color="#ecd2e8"/><stop offset="0.52" stop-color="#c27cb9"/><stop offset="0.76" stop-color="#a5238f"/><stop offset="1" stop-color="#8a1680"/></linearGradient>
<linearGradient id="gY" x1="0" y1="0" x2="0" y2="1">
<stop offset="0" stop-color="#efdcae"/><stop offset="0.28" stop-color="#fefaf1"/><stop offset="0.55" stop-color="#f9eed6"/><stop offset="1" stop-color="#f1dcaa"/></linearGradient>
<linearGradient id="gL" x1="0" y1="0" x2="0" y2="1">
<stop offset="0" stop-color="#1c6aa8"/><stop offset="0.3" stop-color="#cfe3f2"/><stop offset="0.55" stop-color="#4a94cc"/><stop offset="1" stop-color="#1a62a0"/></linearGradient>
</defs>
<line x1="30.30" y1="320.30" x2="148.30" y2="320.30" stroke="#4a4a4a" stroke-width="0.8" />
<polyline points="63.2,312.2 69.8,304.6 76.6,312.2" fill="none" stroke="#1f1f1f" stroke-width="1.2"/>
<polyline points="102.2,312.2 106.2,304.7 113.0,312.2" fill="none" stroke="#1f1f1f" stroke-width="1.2"/>
<polyline points="63.4,328.6 88.6,344.0 113.5,328.6" fill="none" stroke="#1f1f1f" stroke-width="1.2"/>
<path d="M41.8,311.8 L63.0,311.8 A2.6,8.50 0 0 1 63.0,328.8 L41.8,328.8 Z" fill="url(#gP)" stroke="#7a1470" stroke-width="0.5"/>
<ellipse cx="41.8" cy="320.30" rx="2.6" ry="8.50" fill="#8a1a7c" stroke="#7a1470" stroke-width="0.5"/>
<path d="M77.3,311.6 L100.0,311.6 A2.6,8.60 0 0 1 100.0,328.8 L77.3,328.8 Z" fill="url(#gY)" stroke="#c8ae74" stroke-width="0.5"/>
<ellipse cx="77.3" cy="320.20" rx="2.6" ry="8.60" fill="#f1dcaa" stroke="#c8ae74" stroke-width="0.5"/>
<path d="M113.9,311.8 L136.1,311.8 A2.6,8.50 0 0 1 136.1,328.8 L113.9,328.8 Z" fill="url(#gP)" stroke="#7a1470" stroke-width="0.5"/>
<ellipse cx="113.9" cy="320.30" rx="2.6" ry="8.50" fill="#8a1a7c" stroke="#7a1470" stroke-width="0.5"/>
<line x1="74.70" y1="320.30" x2="102.60" y2="320.30" stroke="#4a4a4a" stroke-width="0.6" opacity="0.55"/>
<line x1="30.30" y1="359.20" x2="146.50" y2="359.20" stroke="#4a4a4a" stroke-width="0.8" />
<rect x="64" y="354.0" width="50" height="10.6" fill="url(#gY)" stroke="#c8ae74" stroke-width="0.5"/>
<path d="M41.8,350.9 L63.0,350.9 A2.6,8.30 0 0 1 63.0,367.5 L41.8,367.5 Z" fill="url(#gP)" stroke="#7a1470" stroke-width="0.5"/>
<ellipse cx="41.8" cy="359.20" rx="2.6" ry="8.30" fill="#8a1a7c" stroke="#7a1470" stroke-width="0.5"/>
<path d="M113.9,350.9 L134.7,350.9 A2.6,8.30 0 0 1 134.7,367.5 L113.9,367.5 Z" fill="url(#gP)" stroke="#7a1470" stroke-width="0.5"/>
<ellipse cx="113.9" cy="359.20" rx="2.6" ry="8.30" fill="#8a1a7c" stroke="#7a1470" stroke-width="0.5"/>
<line x1="30.70" y1="398.40" x2="149.30" y2="398.40" stroke="#4a4a4a" stroke-width="0.8" />
<polyline points="66.4,390.6 88.6,382.8 114.2,390.6" fill="none" stroke="#1f1f1f" stroke-width="1.2"/>
<polyline points="66.4,406.8 78.1,413.2 93.3,406.8" fill="none" stroke="#1f1f1f" stroke-width="1.2"/>
<path d="M42.8,390.4 L64.0,390.4 A2.6,8.30 0 0 1 64.0,407.0 L42.8,407.0 Z" fill="url(#gP)" stroke="#7a1470" stroke-width="0.5"/>
<ellipse cx="42.8" cy="398.70" rx="2.6" ry="8.30" fill="#8a1a7c" stroke="#7a1470" stroke-width="0.5"/>
<path d="M112.6,390.4 L137.4,390.4 A2.6,8.30 0 0 1 137.4,407.0 L112.6,407.0 Z" fill="url(#gP)" stroke="#7a1470" stroke-width="0.5"/>
<ellipse cx="112.6" cy="398.70" rx="2.6" ry="8.30" fill="#8a1a7c" stroke="#7a1470" stroke-width="0.5"/>
<path d="M93.1,390.4 L114.0,390.4 A2.6,8.30 0 0 1 114.0,407.0 L93.1,407.0 Z" fill="url(#gY)" stroke="#c8ae74" stroke-width="0.5"/>
<ellipse cx="93.1" cy="398.70" rx="2.6" ry="8.30" fill="#f1dcaa" stroke="#c8ae74" stroke-width="0.5"/>
<line x1="90.50" y1="398.40" x2="116.00" y2="398.40" stroke="#4a4a4a" stroke-width="0.6" opacity="0.55"/>
<line x1="30.70" y1="436.00" x2="149.30" y2="436.00" stroke="#4a4a4a" stroke-width="0.8" />
<polyline points="87.2,427.6 99.0,420.4 112.3,427.6" fill="none" stroke="#1f1f1f" stroke-width="1.2"/>
<polyline points="65.8,443.4 89.5,450.6 112.3,443.4" fill="none" stroke="#1f1f1f" stroke-width="1.2"/>
<path d="M65.6,427.4 L85.0,427.4 A2.6,8.10 0 0 1 85.0,443.6 L65.6,443.6 Z" fill="url(#gY)" stroke="#c8ae74" stroke-width="0.5"/>
<ellipse cx="65.6" cy="435.50" rx="2.6" ry="8.10" fill="#f1dcaa" stroke="#c8ae74" stroke-width="0.5"/>
<path d="M42.8,427.4 L63.6,427.4 A2.6,8.10 0 0 1 63.6,443.6 L42.8,443.6 Z" fill="url(#gP)" stroke="#7a1470" stroke-width="0.5"/>
<ellipse cx="42.8" cy="435.50" rx="2.6" ry="8.10" fill="#8a1a7c" stroke="#7a1470" stroke-width="0.5"/>
<path d="M113.9,427.4 L135.6,427.4 A2.6,8.10 0 0 1 135.6,443.6 L113.9,443.6 Z" fill="url(#gP)" stroke="#7a1470" stroke-width="0.5"/>
<ellipse cx="113.9" cy="435.50" rx="2.6" ry="8.10" fill="#8a1a7c" stroke="#7a1470" stroke-width="0.5"/>
<line x1="66.00" y1="436.00" x2="87.60" y2="436.00" stroke="#4a4a4a" stroke-width="0.6" opacity="0.55"/>
<line x1="30.70" y1="475.30" x2="148.50" y2="475.30" stroke="#4a4a4a" stroke-width="0.8" />
<polyline points="63.2,467.0 79.2,460.2 95.9,467.6" fill="none" stroke="#1f1f1f" stroke-width="1.2"/>
<polyline points="105.1,467.6 109.0,460.5 113.2,467.6" fill="none" stroke="#1f1f1f" stroke-width="1.2"/>
<polyline points="63.2,483.7 67.5,490.4 71.3,483.7" fill="none" stroke="#1f1f1f" stroke-width="1.2"/>
<polyline points="81.8,483.7 97.4,490.4 113.8,483.7" fill="none" stroke="#1f1f1f" stroke-width="1.2"/>
<path d="M42.8,467.3 L63.4,467.3 A2.6,8.35 0 0 1 63.4,484.0 L42.8,484.0 Z" fill="url(#gP)" stroke="#7a1470" stroke-width="0.5"/>
<ellipse cx="42.8" cy="475.65" rx="2.6" ry="8.35" fill="#8a1a7c" stroke="#7a1470" stroke-width="0.5"/>
<path d="M73.1,467.3 L80.6,467.3 A2.0,8.35 0 0 1 80.6,484.0 L73.1,484.0 Z" fill="url(#gL)" stroke="#1c5f98" stroke-width="0.5"/>
<ellipse cx="73.1" cy="475.65" rx="2.0" ry="8.35" fill="#2270ae" stroke="#1c5f98" stroke-width="0.5"/>
<path d="M96.3,467.3 L104.8,467.3 A2.0,8.35 0 0 1 104.8,484.0 L96.3,484.0 Z" fill="url(#gY)" stroke="#c8ae74" stroke-width="0.5"/>
<ellipse cx="96.3" cy="475.65" rx="2.0" ry="8.35" fill="#f1dcaa" stroke="#c8ae74" stroke-width="0.5"/>
<line x1="94.30" y1="475.30" x2="106.80" y2="475.30" stroke="#4a4a4a" stroke-width="0.6" opacity="0.55"/>
<path d="M113.8,467.3 L135.6,467.3 A2.6,8.35 0 0 1 135.6,484.0 L113.8,484.0 Z" fill="url(#gP)" stroke="#7a1470" stroke-width="0.5"/>
<ellipse cx="113.8" cy="475.65" rx="2.6" ry="8.35" fill="#8a1a7c" stroke="#7a1470" stroke-width="0.5"/>
</svg></body></html>
